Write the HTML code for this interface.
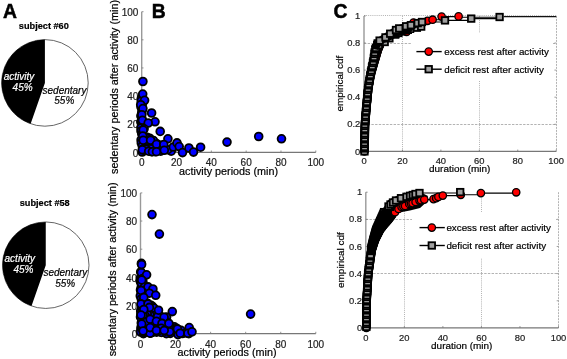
<!DOCTYPE html>
<html><head><meta charset="utf-8"><style>
html,body{margin:0;padding:0;background:#fff;}
svg{display:block;will-change:transform;}
text{font-family:"Liberation Sans", sans-serif;font-variant-ligatures:none;font-kerning:none;}
</style></head><body>
<svg width="567" height="359" viewBox="0 0 567 359">
<rect width="567" height="359" fill="#fff"/>
<circle cx="44.9" cy="82.9" r="43.3" fill="#fff" stroke="#555" stroke-width="0.9"/>
<path d="M44.9,82.9 L44.9,39.60000000000001 A43.3,43.3 0 0,0 30.66,123.79 Z" fill="#000"/>
<circle cx="45.75" cy="265.2" r="43.25" fill="#fff" stroke="#555" stroke-width="0.9"/>
<path d="M45.75,265.2 L45.75,221.95 A43.25,43.25 0 0,0 31.53,306.04 Z" fill="#000"/>
<text x="3.00" y="18.00" font-size="19.3" text-anchor="start" font-weight="bold" font-style="normal" fill="#000" stroke="#000" stroke-width="0.5">A</text>
<text x="18.80" y="28.80" font-size="9.2" text-anchor="start" font-weight="bold" font-style="normal" fill="#000"  stroke="#000" stroke-width="0.2">subject #60</text>
<text x="19.70" y="206.10" font-size="9.2" text-anchor="start" font-weight="bold" font-style="normal" fill="#000"  stroke="#000" stroke-width="0.2">subject #58</text>
<text x="19.00" y="79.80" font-size="10" text-anchor="middle" font-weight="normal" font-style="italic" fill="#fff"  stroke="#fff" stroke-width="0.2">activity</text>
<text x="22.60" y="91.00" font-size="10" text-anchor="middle" font-weight="normal" font-style="italic" fill="#fff"  stroke="#fff" stroke-width="0.2">45%</text>
<text x="64.50" y="94.10" font-size="10" text-anchor="middle" font-weight="normal" font-style="italic" fill="#000"  stroke="#000" stroke-width="0.2">sedentary</text>
<text x="64.30" y="104.20" font-size="10" text-anchor="middle" font-weight="normal" font-style="italic" fill="#000"  stroke="#000" stroke-width="0.2">55%</text>
<text x="19.85" y="262.10" font-size="10" text-anchor="middle" font-weight="normal" font-style="italic" fill="#fff"  stroke="#fff" stroke-width="0.2">activity</text>
<text x="23.45" y="273.30" font-size="10" text-anchor="middle" font-weight="normal" font-style="italic" fill="#fff"  stroke="#fff" stroke-width="0.2">45%</text>
<text x="65.35" y="276.40" font-size="10" text-anchor="middle" font-weight="normal" font-style="italic" fill="#000"  stroke="#000" stroke-width="0.2">sedentary</text>
<text x="65.15" y="286.50" font-size="10" text-anchor="middle" font-weight="normal" font-style="italic" fill="#000"  stroke="#000" stroke-width="0.2">55%</text>
<line x1="141.7" y1="152.3" x2="315.8" y2="152.3" stroke="#777" stroke-width="1.2"/>
<line x1="141.7" y1="152.3" x2="141.7" y2="11.7" stroke="#999" stroke-width="1.4"/>
<line x1="141.70" y1="152.3" x2="141.70" y2="150.5" stroke="#777" stroke-width="0.8"/>
<line x1="141.7" y1="152.30" x2="143.5" y2="152.30" stroke="#777" stroke-width="0.8"/>
<text x="141.70" y="166.30" font-size="10" text-anchor="middle" font-weight="normal" font-style="normal" fill="#222"  stroke="#222" stroke-width="0.2">0</text>
<text x="138.40" y="156.60" font-size="10" text-anchor="end" font-weight="normal" font-style="normal" fill="#222"  stroke="#222" stroke-width="0.2">0</text>
<line x1="176.52" y1="152.3" x2="176.52" y2="150.5" stroke="#777" stroke-width="0.8"/>
<line x1="141.7" y1="124.18" x2="143.5" y2="124.18" stroke="#777" stroke-width="0.8"/>
<text x="176.52" y="166.30" font-size="10" text-anchor="middle" font-weight="normal" font-style="normal" fill="#222"  stroke="#222" stroke-width="0.2">20</text>
<text x="138.40" y="128.48" font-size="10" text-anchor="end" font-weight="normal" font-style="normal" fill="#222"  stroke="#222" stroke-width="0.2">20</text>
<line x1="211.34" y1="152.3" x2="211.34" y2="150.5" stroke="#777" stroke-width="0.8"/>
<line x1="141.7" y1="96.06" x2="143.5" y2="96.06" stroke="#777" stroke-width="0.8"/>
<text x="211.34" y="166.30" font-size="10" text-anchor="middle" font-weight="normal" font-style="normal" fill="#222"  stroke="#222" stroke-width="0.2">40</text>
<text x="138.40" y="100.36" font-size="10" text-anchor="end" font-weight="normal" font-style="normal" fill="#222"  stroke="#222" stroke-width="0.2">40</text>
<line x1="246.16" y1="152.3" x2="246.16" y2="150.5" stroke="#777" stroke-width="0.8"/>
<line x1="141.7" y1="67.94" x2="143.5" y2="67.94" stroke="#777" stroke-width="0.8"/>
<text x="246.16" y="166.30" font-size="10" text-anchor="middle" font-weight="normal" font-style="normal" fill="#222"  stroke="#222" stroke-width="0.2">60</text>
<text x="138.40" y="72.24" font-size="10" text-anchor="end" font-weight="normal" font-style="normal" fill="#222"  stroke="#222" stroke-width="0.2">60</text>
<line x1="280.98" y1="152.3" x2="280.98" y2="150.5" stroke="#777" stroke-width="0.8"/>
<line x1="141.7" y1="39.82" x2="143.5" y2="39.82" stroke="#777" stroke-width="0.8"/>
<text x="280.98" y="166.30" font-size="10" text-anchor="middle" font-weight="normal" font-style="normal" fill="#222"  stroke="#222" stroke-width="0.2">80</text>
<text x="138.40" y="44.12" font-size="10" text-anchor="end" font-weight="normal" font-style="normal" fill="#222"  stroke="#222" stroke-width="0.2">80</text>
<line x1="315.80" y1="152.3" x2="315.80" y2="150.5" stroke="#777" stroke-width="0.8"/>
<line x1="141.7" y1="11.70" x2="143.5" y2="11.70" stroke="#777" stroke-width="0.8"/>
<text x="315.80" y="166.30" font-size="10" text-anchor="middle" font-weight="normal" font-style="normal" fill="#222"  stroke="#222" stroke-width="0.2">100</text>
<text x="138.40" y="16.00" font-size="10" text-anchor="end" font-weight="normal" font-style="normal" fill="#222"  stroke="#222" stroke-width="0.2">100</text>
<text x="228.60" y="174.90" font-size="10.8" text-anchor="middle" font-weight="normal" font-style="normal" fill="#000"  stroke="#000" stroke-width="0.2">activity periods (min)</text>
<text x="0" y="0" font-size="10.8" text-anchor="middle" fill="#000" stroke="#000" stroke-width="0.2" transform="translate(117.9,87.0) rotate(-90)">sedentary periods after activity (min)</text>
<line x1="140.5" y1="333.6" x2="315.8" y2="333.6" stroke="#777" stroke-width="1.2"/>
<line x1="140.5" y1="333.6" x2="140.5" y2="192.9" stroke="#999" stroke-width="1.4"/>
<line x1="140.50" y1="333.6" x2="140.50" y2="331.8" stroke="#777" stroke-width="0.8"/>
<line x1="140.5" y1="333.60" x2="142.3" y2="333.60" stroke="#777" stroke-width="0.8"/>
<text x="140.50" y="347.60" font-size="10" text-anchor="middle" font-weight="normal" font-style="normal" fill="#222"  stroke="#222" stroke-width="0.2">0</text>
<text x="137.20" y="337.90" font-size="10" text-anchor="end" font-weight="normal" font-style="normal" fill="#222"  stroke="#222" stroke-width="0.2">0</text>
<line x1="175.56" y1="333.6" x2="175.56" y2="331.8" stroke="#777" stroke-width="0.8"/>
<line x1="140.5" y1="305.46" x2="142.3" y2="305.46" stroke="#777" stroke-width="0.8"/>
<text x="175.56" y="347.60" font-size="10" text-anchor="middle" font-weight="normal" font-style="normal" fill="#222"  stroke="#222" stroke-width="0.2">20</text>
<text x="137.20" y="309.76" font-size="10" text-anchor="end" font-weight="normal" font-style="normal" fill="#222"  stroke="#222" stroke-width="0.2">20</text>
<line x1="210.62" y1="333.6" x2="210.62" y2="331.8" stroke="#777" stroke-width="0.8"/>
<line x1="140.5" y1="277.32" x2="142.3" y2="277.32" stroke="#777" stroke-width="0.8"/>
<text x="210.62" y="347.60" font-size="10" text-anchor="middle" font-weight="normal" font-style="normal" fill="#222"  stroke="#222" stroke-width="0.2">40</text>
<text x="137.20" y="281.62" font-size="10" text-anchor="end" font-weight="normal" font-style="normal" fill="#222"  stroke="#222" stroke-width="0.2">40</text>
<line x1="245.68" y1="333.6" x2="245.68" y2="331.8" stroke="#777" stroke-width="0.8"/>
<line x1="140.5" y1="249.18" x2="142.3" y2="249.18" stroke="#777" stroke-width="0.8"/>
<text x="245.68" y="347.60" font-size="10" text-anchor="middle" font-weight="normal" font-style="normal" fill="#222"  stroke="#222" stroke-width="0.2">60</text>
<text x="137.20" y="253.48" font-size="10" text-anchor="end" font-weight="normal" font-style="normal" fill="#222"  stroke="#222" stroke-width="0.2">60</text>
<line x1="280.74" y1="333.6" x2="280.74" y2="331.8" stroke="#777" stroke-width="0.8"/>
<line x1="140.5" y1="221.04" x2="142.3" y2="221.04" stroke="#777" stroke-width="0.8"/>
<text x="280.74" y="347.60" font-size="10" text-anchor="middle" font-weight="normal" font-style="normal" fill="#222"  stroke="#222" stroke-width="0.2">80</text>
<text x="137.20" y="225.34" font-size="10" text-anchor="end" font-weight="normal" font-style="normal" fill="#222"  stroke="#222" stroke-width="0.2">80</text>
<line x1="315.80" y1="333.6" x2="315.80" y2="331.8" stroke="#777" stroke-width="0.8"/>
<line x1="140.5" y1="192.90" x2="142.3" y2="192.90" stroke="#777" stroke-width="0.8"/>
<text x="315.80" y="347.60" font-size="10" text-anchor="middle" font-weight="normal" font-style="normal" fill="#222"  stroke="#222" stroke-width="0.2">100</text>
<text x="137.20" y="197.20" font-size="10" text-anchor="end" font-weight="normal" font-style="normal" fill="#222"  stroke="#222" stroke-width="0.2">100</text>
<text x="227.00" y="356.00" font-size="10.8" text-anchor="middle" font-weight="normal" font-style="normal" fill="#000"  stroke="#000" stroke-width="0.2">activity periods (min)</text>
<text x="0" y="0" font-size="10.8" text-anchor="middle" fill="#000" stroke="#000" stroke-width="0.2" transform="translate(116.0,269.3) rotate(-90)">sedentary periods after activity (min)</text>
<text x="151.70" y="17.80" font-size="19.3" text-anchor="start" font-weight="bold" font-style="normal" fill="#000" stroke="#000" stroke-width="0.5">B</text>
<circle cx="141.6" cy="98.0" r="3.9" fill="#0000ff" stroke="#000" stroke-width="1.8"/>
<circle cx="141.2" cy="101.0" r="3.9" fill="#0000ff" stroke="#000" stroke-width="1.8"/>
<circle cx="142.4" cy="104.0" r="3.9" fill="#0000ff" stroke="#000" stroke-width="1.8"/>
<circle cx="141.0" cy="107.0" r="3.9" fill="#0000ff" stroke="#000" stroke-width="1.8"/>
<circle cx="142.1" cy="110.0" r="3.9" fill="#0000ff" stroke="#000" stroke-width="1.8"/>
<circle cx="141.7" cy="113.0" r="3.9" fill="#0000ff" stroke="#000" stroke-width="1.8"/>
<circle cx="140.9" cy="116.0" r="3.9" fill="#0000ff" stroke="#000" stroke-width="1.8"/>
<circle cx="142.0" cy="119.0" r="3.9" fill="#0000ff" stroke="#000" stroke-width="1.8"/>
<circle cx="140.9" cy="122.0" r="3.9" fill="#0000ff" stroke="#000" stroke-width="1.8"/>
<circle cx="141.8" cy="125.0" r="3.9" fill="#0000ff" stroke="#000" stroke-width="1.8"/>
<circle cx="141.0" cy="128.0" r="3.9" fill="#0000ff" stroke="#000" stroke-width="1.8"/>
<circle cx="141.0" cy="131.0" r="3.9" fill="#0000ff" stroke="#000" stroke-width="1.8"/>
<circle cx="141.8" cy="134.0" r="3.9" fill="#0000ff" stroke="#000" stroke-width="1.8"/>
<circle cx="142.8" cy="137.0" r="3.9" fill="#0000ff" stroke="#000" stroke-width="1.8"/>
<circle cx="141.1" cy="140.0" r="3.9" fill="#0000ff" stroke="#000" stroke-width="1.8"/>
<circle cx="141.3" cy="143.0" r="3.9" fill="#0000ff" stroke="#000" stroke-width="1.8"/>
<circle cx="142.3" cy="146.0" r="3.9" fill="#0000ff" stroke="#000" stroke-width="1.8"/>
<circle cx="143.1" cy="149.0" r="3.9" fill="#0000ff" stroke="#000" stroke-width="1.8"/>
<circle cx="142.2" cy="152.0" r="3.9" fill="#0000ff" stroke="#000" stroke-width="1.8"/>
<circle cx="155.1" cy="151.6" r="3.9" fill="#0000ff" stroke="#000" stroke-width="1.8"/>
<circle cx="143.5" cy="149.5" r="3.9" fill="#0000ff" stroke="#000" stroke-width="1.8"/>
<circle cx="145.9" cy="139.6" r="3.9" fill="#0000ff" stroke="#000" stroke-width="1.8"/>
<circle cx="161.2" cy="145.5" r="3.9" fill="#0000ff" stroke="#000" stroke-width="1.8"/>
<circle cx="154.3" cy="143.9" r="3.9" fill="#0000ff" stroke="#000" stroke-width="1.8"/>
<circle cx="148.8" cy="146.2" r="3.9" fill="#0000ff" stroke="#000" stroke-width="1.8"/>
<circle cx="151.9" cy="148.3" r="3.9" fill="#0000ff" stroke="#000" stroke-width="1.8"/>
<circle cx="151.5" cy="151.6" r="3.9" fill="#0000ff" stroke="#000" stroke-width="1.8"/>
<circle cx="145.9" cy="141.5" r="3.9" fill="#0000ff" stroke="#000" stroke-width="1.8"/>
<circle cx="164.1" cy="147.8" r="3.9" fill="#0000ff" stroke="#000" stroke-width="1.8"/>
<circle cx="160.9" cy="149.8" r="3.9" fill="#0000ff" stroke="#000" stroke-width="1.8"/>
<circle cx="152.4" cy="146.5" r="3.9" fill="#0000ff" stroke="#000" stroke-width="1.8"/>
<circle cx="157.1" cy="149.1" r="3.9" fill="#0000ff" stroke="#000" stroke-width="1.8"/>
<circle cx="151.4" cy="140.9" r="3.9" fill="#0000ff" stroke="#000" stroke-width="1.8"/>
<circle cx="150.2" cy="141.0" r="3.9" fill="#0000ff" stroke="#000" stroke-width="1.8"/>
<circle cx="156.8" cy="143.9" r="3.9" fill="#0000ff" stroke="#000" stroke-width="1.8"/>
<circle cx="171.2" cy="151.2" r="3.9" fill="#0000ff" stroke="#000" stroke-width="1.8"/>
<circle cx="147.0" cy="137.2" r="3.9" fill="#0000ff" stroke="#000" stroke-width="1.8"/>
<circle cx="149.7" cy="138.2" r="3.9" fill="#0000ff" stroke="#000" stroke-width="1.8"/>
<circle cx="158.0" cy="144.6" r="3.9" fill="#0000ff" stroke="#000" stroke-width="1.8"/>
<circle cx="160.7" cy="151.2" r="3.9" fill="#0000ff" stroke="#000" stroke-width="1.8"/>
<circle cx="162.4" cy="146.2" r="3.9" fill="#0000ff" stroke="#000" stroke-width="1.8"/>
<circle cx="143.8" cy="150.2" r="3.9" fill="#0000ff" stroke="#000" stroke-width="1.8"/>
<circle cx="167.7" cy="149.7" r="3.9" fill="#0000ff" stroke="#000" stroke-width="1.8"/>
<circle cx="144.2" cy="137.8" r="3.9" fill="#0000ff" stroke="#000" stroke-width="1.8"/>
<circle cx="147.4" cy="140.1" r="3.9" fill="#0000ff" stroke="#000" stroke-width="1.8"/>
<circle cx="146.9" cy="138.5" r="3.9" fill="#0000ff" stroke="#000" stroke-width="1.8"/>
<circle cx="153.5" cy="140.6" r="3.9" fill="#0000ff" stroke="#000" stroke-width="1.8"/>
<circle cx="146.1" cy="149.3" r="3.9" fill="#0000ff" stroke="#000" stroke-width="1.8"/>
<circle cx="145.4" cy="140.2" r="3.9" fill="#0000ff" stroke="#000" stroke-width="1.8"/>
<circle cx="142.9" cy="81.5" r="3.9" fill="#0000ff" stroke="#000" stroke-width="1.8"/>
<circle cx="142.7" cy="94.1" r="3.9" fill="#0000ff" stroke="#000" stroke-width="1.8"/>
<circle cx="144.6" cy="100.3" r="3.9" fill="#0000ff" stroke="#000" stroke-width="1.8"/>
<circle cx="140.7" cy="104.7" r="3.9" fill="#0000ff" stroke="#000" stroke-width="1.8"/>
<circle cx="142.9" cy="108.6" r="3.9" fill="#0000ff" stroke="#000" stroke-width="1.8"/>
<circle cx="151.6" cy="113.0" r="3.9" fill="#0000ff" stroke="#000" stroke-width="1.8"/>
<circle cx="141.8" cy="114.7" r="3.9" fill="#0000ff" stroke="#000" stroke-width="1.8"/>
<circle cx="142.4" cy="120.3" r="3.9" fill="#0000ff" stroke="#000" stroke-width="1.8"/>
<circle cx="155.0" cy="121.8" r="3.9" fill="#0000ff" stroke="#000" stroke-width="1.8"/>
<circle cx="148.2" cy="123.0" r="3.9" fill="#0000ff" stroke="#000" stroke-width="1.8"/>
<circle cx="144.1" cy="128.8" r="3.9" fill="#0000ff" stroke="#000" stroke-width="1.8"/>
<circle cx="143.2" cy="130.1" r="3.9" fill="#0000ff" stroke="#000" stroke-width="1.8"/>
<circle cx="160.2" cy="131.4" r="3.9" fill="#0000ff" stroke="#000" stroke-width="1.8"/>
<circle cx="142.7" cy="136.0" r="3.9" fill="#0000ff" stroke="#000" stroke-width="1.8"/>
<circle cx="143.2" cy="140.2" r="3.9" fill="#0000ff" stroke="#000" stroke-width="1.8"/>
<circle cx="150.6" cy="140.2" r="3.9" fill="#0000ff" stroke="#000" stroke-width="1.8"/>
<circle cx="167.9" cy="138.8" r="3.9" fill="#0000ff" stroke="#000" stroke-width="1.8"/>
<circle cx="156.5" cy="144.3" r="3.9" fill="#0000ff" stroke="#000" stroke-width="1.8"/>
<circle cx="163.8" cy="144.5" r="3.9" fill="#0000ff" stroke="#000" stroke-width="1.8"/>
<circle cx="142.3" cy="149.8" r="3.9" fill="#0000ff" stroke="#000" stroke-width="1.8"/>
<circle cx="148.7" cy="151.2" r="3.9" fill="#0000ff" stroke="#000" stroke-width="1.8"/>
<circle cx="152.4" cy="151.7" r="3.9" fill="#0000ff" stroke="#000" stroke-width="1.8"/>
<circle cx="156.5" cy="151.7" r="3.9" fill="#0000ff" stroke="#000" stroke-width="1.8"/>
<circle cx="164.3" cy="150.3" r="3.9" fill="#0000ff" stroke="#000" stroke-width="1.8"/>
<circle cx="173.3" cy="147.0" r="3.9" fill="#0000ff" stroke="#000" stroke-width="1.8"/>
<circle cx="177.0" cy="142.9" r="3.9" fill="#0000ff" stroke="#000" stroke-width="1.8"/>
<circle cx="179.2" cy="146.6" r="3.9" fill="#0000ff" stroke="#000" stroke-width="1.8"/>
<circle cx="182.5" cy="152.6" r="3.9" fill="#0000ff" stroke="#000" stroke-width="1.8"/>
<circle cx="188.9" cy="148.0" r="3.9" fill="#0000ff" stroke="#000" stroke-width="1.8"/>
<circle cx="193.5" cy="152.1" r="3.9" fill="#0000ff" stroke="#000" stroke-width="1.8"/>
<circle cx="200.6" cy="147.2" r="3.9" fill="#0000ff" stroke="#000" stroke-width="1.8"/>
<circle cx="227.0" cy="142.1" r="3.9" fill="#0000ff" stroke="#000" stroke-width="1.8"/>
<circle cx="258.7" cy="136.5" r="3.9" fill="#0000ff" stroke="#000" stroke-width="1.8"/>
<circle cx="281.5" cy="138.8" r="3.9" fill="#0000ff" stroke="#000" stroke-width="1.8"/>
<circle cx="140.7" cy="272.0" r="3.9" fill="#0000ff" stroke="#000" stroke-width="1.8"/>
<circle cx="141.9" cy="275.0" r="3.9" fill="#0000ff" stroke="#000" stroke-width="1.8"/>
<circle cx="140.5" cy="278.0" r="3.9" fill="#0000ff" stroke="#000" stroke-width="1.8"/>
<circle cx="140.2" cy="281.0" r="3.9" fill="#0000ff" stroke="#000" stroke-width="1.8"/>
<circle cx="142.1" cy="284.0" r="3.9" fill="#0000ff" stroke="#000" stroke-width="1.8"/>
<circle cx="141.3" cy="287.0" r="3.9" fill="#0000ff" stroke="#000" stroke-width="1.8"/>
<circle cx="140.5" cy="290.0" r="3.9" fill="#0000ff" stroke="#000" stroke-width="1.8"/>
<circle cx="141.3" cy="293.0" r="3.9" fill="#0000ff" stroke="#000" stroke-width="1.8"/>
<circle cx="140.3" cy="296.0" r="3.9" fill="#0000ff" stroke="#000" stroke-width="1.8"/>
<circle cx="141.3" cy="299.0" r="3.9" fill="#0000ff" stroke="#000" stroke-width="1.8"/>
<circle cx="142.2" cy="302.0" r="3.9" fill="#0000ff" stroke="#000" stroke-width="1.8"/>
<circle cx="141.9" cy="305.0" r="3.9" fill="#0000ff" stroke="#000" stroke-width="1.8"/>
<circle cx="141.6" cy="308.0" r="3.9" fill="#0000ff" stroke="#000" stroke-width="1.8"/>
<circle cx="140.7" cy="311.0" r="3.9" fill="#0000ff" stroke="#000" stroke-width="1.8"/>
<circle cx="140.9" cy="314.0" r="3.9" fill="#0000ff" stroke="#000" stroke-width="1.8"/>
<circle cx="140.5" cy="317.0" r="3.9" fill="#0000ff" stroke="#000" stroke-width="1.8"/>
<circle cx="141.7" cy="320.0" r="3.9" fill="#0000ff" stroke="#000" stroke-width="1.8"/>
<circle cx="141.3" cy="323.0" r="3.9" fill="#0000ff" stroke="#000" stroke-width="1.8"/>
<circle cx="141.8" cy="326.0" r="3.9" fill="#0000ff" stroke="#000" stroke-width="1.8"/>
<circle cx="140.9" cy="329.0" r="3.9" fill="#0000ff" stroke="#000" stroke-width="1.8"/>
<circle cx="140.6" cy="332.0" r="3.9" fill="#0000ff" stroke="#000" stroke-width="1.8"/>
<circle cx="182.4" cy="333.5" r="3.9" fill="#0000ff" stroke="#000" stroke-width="1.8"/>
<circle cx="152.6" cy="316.6" r="3.9" fill="#0000ff" stroke="#000" stroke-width="1.8"/>
<circle cx="142.4" cy="308.1" r="3.9" fill="#0000ff" stroke="#000" stroke-width="1.8"/>
<circle cx="154.2" cy="322.9" r="3.9" fill="#0000ff" stroke="#000" stroke-width="1.8"/>
<circle cx="188.8" cy="333.6" r="3.9" fill="#0000ff" stroke="#000" stroke-width="1.8"/>
<circle cx="152.2" cy="306.2" r="3.9" fill="#0000ff" stroke="#000" stroke-width="1.8"/>
<circle cx="151.0" cy="305.4" r="3.9" fill="#0000ff" stroke="#000" stroke-width="1.8"/>
<circle cx="172.8" cy="330.4" r="3.9" fill="#0000ff" stroke="#000" stroke-width="1.8"/>
<circle cx="174.3" cy="326.8" r="3.9" fill="#0000ff" stroke="#000" stroke-width="1.8"/>
<circle cx="145.3" cy="321.8" r="3.9" fill="#0000ff" stroke="#000" stroke-width="1.8"/>
<circle cx="150.1" cy="326.4" r="3.9" fill="#0000ff" stroke="#000" stroke-width="1.8"/>
<circle cx="158.0" cy="326.8" r="3.9" fill="#0000ff" stroke="#000" stroke-width="1.8"/>
<circle cx="161.5" cy="332.1" r="3.9" fill="#0000ff" stroke="#000" stroke-width="1.8"/>
<circle cx="147.5" cy="303.4" r="3.9" fill="#0000ff" stroke="#000" stroke-width="1.8"/>
<circle cx="148.5" cy="327.8" r="3.9" fill="#0000ff" stroke="#000" stroke-width="1.8"/>
<circle cx="158.9" cy="317.8" r="3.9" fill="#0000ff" stroke="#000" stroke-width="1.8"/>
<circle cx="167.9" cy="331.6" r="3.9" fill="#0000ff" stroke="#000" stroke-width="1.8"/>
<circle cx="163.1" cy="329.4" r="3.9" fill="#0000ff" stroke="#000" stroke-width="1.8"/>
<circle cx="153.8" cy="308.5" r="3.9" fill="#0000ff" stroke="#000" stroke-width="1.8"/>
<circle cx="153.3" cy="319.1" r="3.9" fill="#0000ff" stroke="#000" stroke-width="1.8"/>
<circle cx="154.2" cy="313.1" r="3.9" fill="#0000ff" stroke="#000" stroke-width="1.8"/>
<circle cx="147.7" cy="330.8" r="3.9" fill="#0000ff" stroke="#000" stroke-width="1.8"/>
<circle cx="159.0" cy="314.5" r="3.9" fill="#0000ff" stroke="#000" stroke-width="1.8"/>
<circle cx="170.8" cy="330.6" r="3.9" fill="#0000ff" stroke="#000" stroke-width="1.8"/>
<circle cx="162.5" cy="331.0" r="3.9" fill="#0000ff" stroke="#000" stroke-width="1.8"/>
<circle cx="166.6" cy="317.1" r="3.9" fill="#0000ff" stroke="#000" stroke-width="1.8"/>
<circle cx="141.2" cy="326.8" r="3.9" fill="#0000ff" stroke="#000" stroke-width="1.8"/>
<circle cx="149.8" cy="315.0" r="3.9" fill="#0000ff" stroke="#000" stroke-width="1.8"/>
<circle cx="157.6" cy="316.7" r="3.9" fill="#0000ff" stroke="#000" stroke-width="1.8"/>
<circle cx="169.3" cy="326.2" r="3.9" fill="#0000ff" stroke="#000" stroke-width="1.8"/>
<circle cx="146.4" cy="318.2" r="3.9" fill="#0000ff" stroke="#000" stroke-width="1.8"/>
<circle cx="153.7" cy="308.0" r="3.9" fill="#0000ff" stroke="#000" stroke-width="1.8"/>
<circle cx="169.6" cy="325.4" r="3.9" fill="#0000ff" stroke="#000" stroke-width="1.8"/>
<circle cx="167.1" cy="322.9" r="3.9" fill="#0000ff" stroke="#000" stroke-width="1.8"/>
<circle cx="164.1" cy="317.2" r="3.9" fill="#0000ff" stroke="#000" stroke-width="1.8"/>
<circle cx="165.4" cy="331.9" r="3.9" fill="#0000ff" stroke="#000" stroke-width="1.8"/>
<circle cx="176.7" cy="329.6" r="3.9" fill="#0000ff" stroke="#000" stroke-width="1.8"/>
<circle cx="169.5" cy="332.0" r="3.9" fill="#0000ff" stroke="#000" stroke-width="1.8"/>
<circle cx="147.2" cy="313.9" r="3.9" fill="#0000ff" stroke="#000" stroke-width="1.8"/>
<circle cx="144.7" cy="306.7" r="3.9" fill="#0000ff" stroke="#000" stroke-width="1.8"/>
<circle cx="144.7" cy="322.1" r="3.9" fill="#0000ff" stroke="#000" stroke-width="1.8"/>
<circle cx="181.0" cy="330.3" r="3.9" fill="#0000ff" stroke="#000" stroke-width="1.8"/>
<circle cx="148.9" cy="323.8" r="3.9" fill="#0000ff" stroke="#000" stroke-width="1.8"/>
<circle cx="186.0" cy="332.8" r="3.9" fill="#0000ff" stroke="#000" stroke-width="1.8"/>
<circle cx="152.2" cy="332.3" r="3.9" fill="#0000ff" stroke="#000" stroke-width="1.8"/>
<circle cx="155.7" cy="322.7" r="3.9" fill="#0000ff" stroke="#000" stroke-width="1.8"/>
<circle cx="147.0" cy="321.5" r="3.9" fill="#0000ff" stroke="#000" stroke-width="1.8"/>
<circle cx="148.2" cy="319.0" r="3.9" fill="#0000ff" stroke="#000" stroke-width="1.8"/>
<circle cx="141.7" cy="319.3" r="3.9" fill="#0000ff" stroke="#000" stroke-width="1.8"/>
<circle cx="143.4" cy="333.7" r="3.9" fill="#0000ff" stroke="#000" stroke-width="1.8"/>
<circle cx="170.2" cy="333.4" r="3.9" fill="#0000ff" stroke="#000" stroke-width="1.8"/>
<circle cx="144.9" cy="317.8" r="3.9" fill="#0000ff" stroke="#000" stroke-width="1.8"/>
<circle cx="142.5" cy="329.1" r="3.9" fill="#0000ff" stroke="#000" stroke-width="1.8"/>
<circle cx="156.6" cy="332.1" r="3.9" fill="#0000ff" stroke="#000" stroke-width="1.8"/>
<circle cx="146.5" cy="332.2" r="3.9" fill="#0000ff" stroke="#000" stroke-width="1.8"/>
<circle cx="162.1" cy="327.4" r="3.9" fill="#0000ff" stroke="#000" stroke-width="1.8"/>
<circle cx="143.7" cy="332.6" r="3.9" fill="#0000ff" stroke="#000" stroke-width="1.8"/>
<circle cx="164.5" cy="329.6" r="3.9" fill="#0000ff" stroke="#000" stroke-width="1.8"/>
<circle cx="144.1" cy="330.8" r="3.9" fill="#0000ff" stroke="#000" stroke-width="1.8"/>
<circle cx="143.5" cy="331.0" r="3.9" fill="#0000ff" stroke="#000" stroke-width="1.8"/>
<circle cx="161.5" cy="332.4" r="3.9" fill="#0000ff" stroke="#000" stroke-width="1.8"/>
<circle cx="145.0" cy="315.6" r="3.9" fill="#0000ff" stroke="#000" stroke-width="1.8"/>
<circle cx="142.9" cy="316.4" r="3.9" fill="#0000ff" stroke="#000" stroke-width="1.8"/>
<circle cx="148.0" cy="322.4" r="3.9" fill="#0000ff" stroke="#000" stroke-width="1.8"/>
<circle cx="159.3" cy="330.4" r="3.9" fill="#0000ff" stroke="#000" stroke-width="1.8"/>
<circle cx="155.5" cy="323.1" r="3.9" fill="#0000ff" stroke="#000" stroke-width="1.8"/>
<circle cx="166.4" cy="333.6" r="3.9" fill="#0000ff" stroke="#000" stroke-width="1.8"/>
<circle cx="153.7" cy="330.3" r="3.9" fill="#0000ff" stroke="#000" stroke-width="1.8"/>
<circle cx="143.0" cy="314.9" r="3.9" fill="#0000ff" stroke="#000" stroke-width="1.8"/>
<circle cx="143.6" cy="328.3" r="3.9" fill="#0000ff" stroke="#000" stroke-width="1.8"/>
<circle cx="144.1" cy="330.5" r="3.9" fill="#0000ff" stroke="#000" stroke-width="1.8"/>
<circle cx="151.8" cy="322.1" r="3.9" fill="#0000ff" stroke="#000" stroke-width="1.8"/>
<circle cx="146.8" cy="321.8" r="3.9" fill="#0000ff" stroke="#000" stroke-width="1.8"/>
<circle cx="150.7" cy="333.2" r="3.9" fill="#0000ff" stroke="#000" stroke-width="1.8"/>
<circle cx="150.0" cy="333.2" r="3.9" fill="#0000ff" stroke="#000" stroke-width="1.8"/>
<circle cx="142.9" cy="282.0" r="3.9" fill="#0000ff" stroke="#000" stroke-width="1.8"/>
<circle cx="141.0" cy="282.7" r="3.9" fill="#0000ff" stroke="#000" stroke-width="1.8"/>
<circle cx="143.8" cy="286.1" r="3.9" fill="#0000ff" stroke="#000" stroke-width="1.8"/>
<circle cx="142.2" cy="286.1" r="3.9" fill="#0000ff" stroke="#000" stroke-width="1.8"/>
<circle cx="141.0" cy="279.4" r="3.9" fill="#0000ff" stroke="#000" stroke-width="1.8"/>
<circle cx="141.5" cy="283.2" r="3.9" fill="#0000ff" stroke="#000" stroke-width="1.8"/>
<circle cx="141.3" cy="272.6" r="3.9" fill="#0000ff" stroke="#000" stroke-width="1.8"/>
<circle cx="142.8" cy="278.5" r="3.9" fill="#0000ff" stroke="#000" stroke-width="1.8"/>
<circle cx="144.5" cy="286.8" r="3.9" fill="#0000ff" stroke="#000" stroke-width="1.8"/>
<circle cx="145.5" cy="290.4" r="3.9" fill="#0000ff" stroke="#000" stroke-width="1.8"/>
<circle cx="152.0" cy="214.6" r="3.9" fill="#0000ff" stroke="#000" stroke-width="1.8"/>
<circle cx="159.4" cy="234.1" r="3.9" fill="#0000ff" stroke="#000" stroke-width="1.8"/>
<circle cx="141.4" cy="263.4" r="3.9" fill="#0000ff" stroke="#000" stroke-width="1.8"/>
<circle cx="141.6" cy="264.6" r="3.9" fill="#0000ff" stroke="#000" stroke-width="1.8"/>
<circle cx="146.6" cy="274.8" r="3.9" fill="#0000ff" stroke="#000" stroke-width="1.8"/>
<circle cx="141.7" cy="279.9" r="3.9" fill="#0000ff" stroke="#000" stroke-width="1.8"/>
<circle cx="148.0" cy="286.9" r="3.9" fill="#0000ff" stroke="#000" stroke-width="1.8"/>
<circle cx="152.9" cy="289.0" r="3.9" fill="#0000ff" stroke="#000" stroke-width="1.8"/>
<circle cx="141.1" cy="290.4" r="3.9" fill="#0000ff" stroke="#000" stroke-width="1.8"/>
<circle cx="149.4" cy="293.2" r="3.9" fill="#0000ff" stroke="#000" stroke-width="1.8"/>
<circle cx="155.7" cy="295.3" r="3.9" fill="#0000ff" stroke="#000" stroke-width="1.8"/>
<circle cx="143.8" cy="297.4" r="3.9" fill="#0000ff" stroke="#000" stroke-width="1.8"/>
<circle cx="141.0" cy="303.9" r="3.9" fill="#0000ff" stroke="#000" stroke-width="1.8"/>
<circle cx="148.0" cy="303.9" r="3.9" fill="#0000ff" stroke="#000" stroke-width="1.8"/>
<circle cx="149.4" cy="307.4" r="3.9" fill="#0000ff" stroke="#000" stroke-width="1.8"/>
<circle cx="158.5" cy="310.2" r="3.9" fill="#0000ff" stroke="#000" stroke-width="1.8"/>
<circle cx="172.3" cy="311.6" r="3.9" fill="#0000ff" stroke="#000" stroke-width="1.8"/>
<circle cx="143.8" cy="309.5" r="3.9" fill="#0000ff" stroke="#000" stroke-width="1.8"/>
<circle cx="141.0" cy="315.1" r="3.9" fill="#0000ff" stroke="#000" stroke-width="1.8"/>
<circle cx="150.1" cy="319.2" r="3.9" fill="#0000ff" stroke="#000" stroke-width="1.8"/>
<circle cx="156.4" cy="321.3" r="3.9" fill="#0000ff" stroke="#000" stroke-width="1.8"/>
<circle cx="162.0" cy="323.4" r="3.9" fill="#0000ff" stroke="#000" stroke-width="1.8"/>
<circle cx="168.9" cy="323.4" r="3.9" fill="#0000ff" stroke="#000" stroke-width="1.8"/>
<circle cx="141.7" cy="324.1" r="3.9" fill="#0000ff" stroke="#000" stroke-width="1.8"/>
<circle cx="150.1" cy="327.6" r="3.9" fill="#0000ff" stroke="#000" stroke-width="1.8"/>
<circle cx="161.2" cy="328.3" r="3.9" fill="#0000ff" stroke="#000" stroke-width="1.8"/>
<circle cx="176.6" cy="328.3" r="3.9" fill="#0000ff" stroke="#000" stroke-width="1.8"/>
<circle cx="143.1" cy="331.1" r="3.9" fill="#0000ff" stroke="#000" stroke-width="1.8"/>
<circle cx="156.4" cy="330.4" r="3.9" fill="#0000ff" stroke="#000" stroke-width="1.8"/>
<circle cx="165.4" cy="331.1" r="3.9" fill="#0000ff" stroke="#000" stroke-width="1.8"/>
<circle cx="169.6" cy="331.8" r="3.9" fill="#0000ff" stroke="#000" stroke-width="1.8"/>
<circle cx="178.0" cy="334.6" r="3.9" fill="#0000ff" stroke="#000" stroke-width="1.8"/>
<circle cx="177.4" cy="329.0" r="3.9" fill="#0000ff" stroke="#000" stroke-width="1.8"/>
<circle cx="180.2" cy="333.2" r="3.9" fill="#0000ff" stroke="#000" stroke-width="1.8"/>
<circle cx="189.2" cy="327.6" r="3.9" fill="#0000ff" stroke="#000" stroke-width="1.8"/>
<circle cx="187.9" cy="333.2" r="3.9" fill="#0000ff" stroke="#000" stroke-width="1.8"/>
<circle cx="192.0" cy="331.8" r="3.9" fill="#0000ff" stroke="#000" stroke-width="1.8"/>
<circle cx="164.2" cy="330.4" r="3.9" fill="#0000ff" stroke="#000" stroke-width="1.8"/>
<circle cx="250.6" cy="314.1" r="3.9" fill="#0000ff" stroke="#000" stroke-width="1.8"/>
<line x1="402.50" y1="15.9" x2="402.50" y2="151.4" stroke="#aaa" stroke-width="0.9" stroke-dasharray="1,1.1"/>
<line x1="479.50" y1="15.9" x2="479.50" y2="151.4" stroke="#aaa" stroke-width="0.9" stroke-dasharray="1,1.1"/>
<line x1="556.50" y1="15.9" x2="556.50" y2="151.4" stroke="#aaa" stroke-width="0.9" stroke-dasharray="2,1"/>
<line x1="364.0" y1="124.50" x2="556.2" y2="124.50" stroke="#aaa" stroke-width="0.9" stroke-dasharray="2.4,1.3"/>
<line x1="364.0" y1="43.50" x2="556.2" y2="43.50" stroke="#aaa" stroke-width="0.9" stroke-dasharray="2.4,1.3"/>
<line x1="364.0" y1="15.50" x2="556.2" y2="15.50" stroke="#aaa" stroke-width="0.9" stroke-dasharray="1,1.1"/>
<line x1="364.0" y1="151.4" x2="556.2" y2="151.4" stroke="#777" stroke-width="1.2"/>
<line x1="364.0" y1="151.4" x2="364.0" y2="15.9" stroke="#999" stroke-width="1.4"/>
<line x1="364.00" y1="151.4" x2="364.00" y2="149.6" stroke="#777" stroke-width="0.8"/>
<text x="364.00" y="164.20" font-size="9.4" text-anchor="middle" font-weight="normal" font-style="normal" fill="#222"  stroke="#222" stroke-width="0.2">0</text>
<line x1="364.0" y1="151.40" x2="365.8" y2="151.40" stroke="#777" stroke-width="0.8"/>
<text x="360.30" y="154.50" font-size="9.4" text-anchor="end" font-weight="normal" font-style="normal" fill="#222"  stroke="#222" stroke-width="0.2">0</text>
<line x1="402.44" y1="151.4" x2="402.44" y2="149.6" stroke="#777" stroke-width="0.8"/>
<text x="402.44" y="164.20" font-size="9.4" text-anchor="middle" font-weight="normal" font-style="normal" fill="#222"  stroke="#222" stroke-width="0.2">20</text>
<line x1="364.0" y1="124.30" x2="365.8" y2="124.30" stroke="#777" stroke-width="0.8"/>
<line x1="556.2" y1="124.30" x2="554.4000000000001" y2="124.30" stroke="#888" stroke-width="0.8"/>
<text x="360.30" y="127.40" font-size="9.4" text-anchor="end" font-weight="normal" font-style="normal" fill="#222"  stroke="#222" stroke-width="0.2">0.2</text>
<line x1="440.88" y1="151.4" x2="440.88" y2="149.6" stroke="#777" stroke-width="0.8"/>
<text x="440.88" y="164.20" font-size="9.4" text-anchor="middle" font-weight="normal" font-style="normal" fill="#222"  stroke="#222" stroke-width="0.2">40</text>
<line x1="364.0" y1="97.20" x2="365.8" y2="97.20" stroke="#777" stroke-width="0.8"/>
<line x1="556.2" y1="97.20" x2="554.4000000000001" y2="97.20" stroke="#888" stroke-width="0.8"/>
<text x="360.30" y="100.30" font-size="9.4" text-anchor="end" font-weight="normal" font-style="normal" fill="#222"  stroke="#222" stroke-width="0.2">0.4</text>
<line x1="479.32" y1="151.4" x2="479.32" y2="149.6" stroke="#777" stroke-width="0.8"/>
<text x="479.32" y="164.20" font-size="9.4" text-anchor="middle" font-weight="normal" font-style="normal" fill="#222"  stroke="#222" stroke-width="0.2">60</text>
<line x1="364.0" y1="70.10" x2="365.8" y2="70.10" stroke="#777" stroke-width="0.8"/>
<line x1="556.2" y1="70.10" x2="554.4000000000001" y2="70.10" stroke="#888" stroke-width="0.8"/>
<text x="360.30" y="73.20" font-size="9.4" text-anchor="end" font-weight="normal" font-style="normal" fill="#222"  stroke="#222" stroke-width="0.2">0.6</text>
<line x1="517.76" y1="151.4" x2="517.76" y2="149.6" stroke="#777" stroke-width="0.8"/>
<text x="517.76" y="164.20" font-size="9.4" text-anchor="middle" font-weight="normal" font-style="normal" fill="#222"  stroke="#222" stroke-width="0.2">80</text>
<line x1="364.0" y1="43.00" x2="365.8" y2="43.00" stroke="#777" stroke-width="0.8"/>
<line x1="556.2" y1="43.00" x2="554.4000000000001" y2="43.00" stroke="#888" stroke-width="0.8"/>
<text x="360.30" y="46.10" font-size="9.4" text-anchor="end" font-weight="normal" font-style="normal" fill="#222"  stroke="#222" stroke-width="0.2">0.8</text>
<line x1="556.20" y1="151.4" x2="556.20" y2="149.6" stroke="#777" stroke-width="0.8"/>
<text x="556.20" y="164.20" font-size="9.4" text-anchor="middle" font-weight="normal" font-style="normal" fill="#222"  stroke="#222" stroke-width="0.2">100</text>
<line x1="364.0" y1="15.90" x2="365.8" y2="15.90" stroke="#777" stroke-width="0.8"/>
<text x="360.30" y="19.00" font-size="9.4" text-anchor="end" font-weight="normal" font-style="normal" fill="#222"  stroke="#222" stroke-width="0.2">1</text>
<text x="459.70" y="171.70" font-size="9.95" text-anchor="middle" font-weight="normal" font-style="normal" fill="#000"  stroke="#000" stroke-width="0.2">duration (min)</text>
<text x="0" y="0" font-size="9.95" text-anchor="middle" fill="#000" stroke="#000" stroke-width="0.2" transform="translate(343.4,83.65) rotate(-90)">empirical cdf</text>
<path d="M364.48,151.40 H364.50 V150.50 H364.52 V149.59 H364.54 V148.69 H364.56 V147.79 H364.58 V146.88 H364.60 V145.98 H364.62 V145.08 H364.63 V144.17 H364.65 V143.27 H364.67 V142.37 H364.69 V141.46 H364.71 V140.56 H364.73 V139.66 H364.75 V138.75 H364.77 V137.85 H364.79 V136.95 H364.81 V136.04 H364.83 V135.14 H364.85 V134.24 H364.86 V133.33 H364.88 V132.43 H364.90 V131.53 H364.92 V130.62 H364.94 V129.72 H364.96 V128.82 H364.98 V127.91 H365.00 V127.01 H365.02 V126.11 H365.04 V125.20 H365.06 V124.30 H365.13 V123.40 H365.21 V122.49 H365.28 V121.59 H365.36 V120.69 H365.44 V119.78 H365.51 V118.88 H365.59 V117.98 H365.66 V117.07 H365.74 V116.17 H365.82 V115.27 H365.89 V114.36 H365.97 V113.46 H366.04 V112.56 H366.12 V111.65 H366.20 V110.75 H366.27 V109.85 H366.35 V108.94 H366.42 V108.04 H366.50 V107.14 H366.58 V106.23 H366.66 V105.33 H366.75 V104.43 H366.83 V103.52 H366.92 V102.62 H367.01 V101.72 H367.10 V100.81 H367.18 V99.91 H367.27 V99.01 H367.36 V98.10 H367.44 V97.20 H367.53 V96.30 H367.62 V95.39 H367.71 V94.49 H367.79 V93.59 H367.88 V92.68 H367.97 V91.78 H368.05 V90.88 H368.14 V89.97 H368.23 V89.07 H368.38 V88.17 H368.52 V87.26 H368.67 V86.36 H368.82 V85.46 H368.97 V84.55 H369.12 V83.65 H369.26 V82.75 H369.41 V81.84 H369.56 V80.94 H369.71 V80.04 H369.85 V79.13 H370.00 V78.23 H370.15 V77.33 H370.30 V76.42 H370.45 V75.52 H370.64 V74.62 H370.91 V73.71 H371.17 V72.81 H371.44 V71.91 H371.70 V71.00 H371.97 V70.10 H372.23 V69.20 H372.50 V68.29 H372.77 V67.39 H373.03 V66.49 H373.30 V65.58 H373.56 V64.68 H373.83 V63.78 H374.09 V62.87 H374.36 V61.97 H374.62 V61.07 H374.89 V60.16 H375.15 V59.26 H375.42 V58.36 H375.68 V57.45 H375.94 V56.55 H376.21 V55.65 H376.47 V54.74 H376.73 V53.84 H377.00 V52.94 H377.26 V52.03 H377.52 V51.13 H377.79 V50.23 H378.14 V49.32 H378.52 V48.42 H378.91 V47.52 H379.29 V46.61 H379.67 V45.71 H380.02 V44.81 H380.27 V43.90 H380.53 V43.00 H385.00 V40.50 H392.00 V37.50 H399.00 V35.00 H406.50 V32.00 H413.50 V22.50 H427.50 V20.80 H432.60 V19.70 H441.60 V16.60 H458.60 V16.40" fill="none" stroke="#000" stroke-width="1.1"/>
<path d="M364.48,151.40 H364.52 V148.40 H364.54 V146.90 H364.59 V143.90 H364.61 V142.40 H364.65 V139.40 H364.67 V137.90 H364.71 V134.90 H364.74 V133.40 H364.78 V130.40 H364.80 V128.90 H364.84 V125.90 H364.86 V124.40 H365.11 V121.40 H365.23 V119.90 H365.49 V116.90 H365.61 V115.40 H365.87 V112.40 H365.99 V110.90 H366.24 V107.90 H366.37 V106.40 H366.65 V103.40 H366.80 V101.90 H367.09 V98.90 H367.23 V97.40 H367.52 V94.40 H367.67 V92.90 H367.96 V89.90 H368.15 V88.40 H368.64 V85.40 H368.88 V83.90 H369.37 V80.90 H369.62 V79.40 H370.11 V76.40 H370.36 V74.90 H371.01 V71.90 H371.34 V70.40 H371.99 V67.40 H372.31 V65.90 H372.97 V62.90 H373.29 V61.40 H373.83 V58.40 H374.05 V56.90 H374.49 V53.90 H374.71 V52.40 H375.32 V49.40 H375.96 V47.90 H377.21 V44.90 H377.71 V43.40 H379.60 V40.60 H385.50 V37.40 H390.20 V33.70 H396.00 V30.00 H399.20 V28.40 H406.10 V26.30 H410.90 V25.20 H417.70 V23.10 H422.00 V22.00 H445.00 V20.40 H471.20 V18.60 H499.60 V17.00" fill="none" stroke="#000" stroke-width="1.1"/>
<line x1="458.6" y1="17.2" x2="499.6" y2="17.2" stroke="#000" stroke-width="1.1"/>
<circle cx="364.48" cy="151.40" r="3.7" fill="#f00" stroke="#000" stroke-width="1.3"/>
<circle cx="364.50" cy="150.50" r="3.7" fill="#f00" stroke="#000" stroke-width="1.3"/>
<circle cx="364.52" cy="149.59" r="3.7" fill="#f00" stroke="#000" stroke-width="1.3"/>
<circle cx="364.54" cy="148.69" r="3.7" fill="#f00" stroke="#000" stroke-width="1.3"/>
<circle cx="364.56" cy="147.79" r="3.7" fill="#f00" stroke="#000" stroke-width="1.3"/>
<circle cx="364.58" cy="146.88" r="3.7" fill="#f00" stroke="#000" stroke-width="1.3"/>
<circle cx="364.60" cy="145.98" r="3.7" fill="#f00" stroke="#000" stroke-width="1.3"/>
<circle cx="364.62" cy="145.08" r="3.7" fill="#f00" stroke="#000" stroke-width="1.3"/>
<circle cx="364.63" cy="144.17" r="3.7" fill="#f00" stroke="#000" stroke-width="1.3"/>
<circle cx="364.65" cy="143.27" r="3.7" fill="#f00" stroke="#000" stroke-width="1.3"/>
<circle cx="364.67" cy="142.37" r="3.7" fill="#f00" stroke="#000" stroke-width="1.3"/>
<circle cx="364.69" cy="141.46" r="3.7" fill="#f00" stroke="#000" stroke-width="1.3"/>
<circle cx="364.71" cy="140.56" r="3.7" fill="#f00" stroke="#000" stroke-width="1.3"/>
<circle cx="364.73" cy="139.66" r="3.7" fill="#f00" stroke="#000" stroke-width="1.3"/>
<circle cx="364.75" cy="138.75" r="3.7" fill="#f00" stroke="#000" stroke-width="1.3"/>
<circle cx="364.77" cy="137.85" r="3.7" fill="#f00" stroke="#000" stroke-width="1.3"/>
<circle cx="364.79" cy="136.95" r="3.7" fill="#f00" stroke="#000" stroke-width="1.3"/>
<circle cx="364.81" cy="136.04" r="3.7" fill="#f00" stroke="#000" stroke-width="1.3"/>
<circle cx="364.83" cy="135.14" r="3.7" fill="#f00" stroke="#000" stroke-width="1.3"/>
<circle cx="364.85" cy="134.24" r="3.7" fill="#f00" stroke="#000" stroke-width="1.3"/>
<circle cx="364.86" cy="133.33" r="3.7" fill="#f00" stroke="#000" stroke-width="1.3"/>
<circle cx="364.88" cy="132.43" r="3.7" fill="#f00" stroke="#000" stroke-width="1.3"/>
<circle cx="364.90" cy="131.53" r="3.7" fill="#f00" stroke="#000" stroke-width="1.3"/>
<circle cx="364.92" cy="130.62" r="3.7" fill="#f00" stroke="#000" stroke-width="1.3"/>
<circle cx="364.94" cy="129.72" r="3.7" fill="#f00" stroke="#000" stroke-width="1.3"/>
<circle cx="364.96" cy="128.82" r="3.7" fill="#f00" stroke="#000" stroke-width="1.3"/>
<circle cx="364.98" cy="127.91" r="3.7" fill="#f00" stroke="#000" stroke-width="1.3"/>
<circle cx="365.00" cy="127.01" r="3.7" fill="#f00" stroke="#000" stroke-width="1.3"/>
<circle cx="365.02" cy="126.11" r="3.7" fill="#f00" stroke="#000" stroke-width="1.3"/>
<circle cx="365.04" cy="125.20" r="3.7" fill="#f00" stroke="#000" stroke-width="1.3"/>
<circle cx="365.06" cy="124.30" r="3.7" fill="#f00" stroke="#000" stroke-width="1.3"/>
<circle cx="365.13" cy="123.40" r="3.7" fill="#f00" stroke="#000" stroke-width="1.3"/>
<circle cx="365.21" cy="122.49" r="3.7" fill="#f00" stroke="#000" stroke-width="1.3"/>
<circle cx="365.28" cy="121.59" r="3.7" fill="#f00" stroke="#000" stroke-width="1.3"/>
<circle cx="365.36" cy="120.69" r="3.7" fill="#f00" stroke="#000" stroke-width="1.3"/>
<circle cx="365.44" cy="119.78" r="3.7" fill="#f00" stroke="#000" stroke-width="1.3"/>
<circle cx="365.51" cy="118.88" r="3.7" fill="#f00" stroke="#000" stroke-width="1.3"/>
<circle cx="365.59" cy="117.98" r="3.7" fill="#f00" stroke="#000" stroke-width="1.3"/>
<circle cx="365.66" cy="117.07" r="3.7" fill="#f00" stroke="#000" stroke-width="1.3"/>
<circle cx="365.74" cy="116.17" r="3.7" fill="#f00" stroke="#000" stroke-width="1.3"/>
<circle cx="365.82" cy="115.27" r="3.7" fill="#f00" stroke="#000" stroke-width="1.3"/>
<circle cx="365.89" cy="114.36" r="3.7" fill="#f00" stroke="#000" stroke-width="1.3"/>
<circle cx="365.97" cy="113.46" r="3.7" fill="#f00" stroke="#000" stroke-width="1.3"/>
<circle cx="366.04" cy="112.56" r="3.7" fill="#f00" stroke="#000" stroke-width="1.3"/>
<circle cx="366.12" cy="111.65" r="3.7" fill="#f00" stroke="#000" stroke-width="1.3"/>
<circle cx="366.20" cy="110.75" r="3.7" fill="#f00" stroke="#000" stroke-width="1.3"/>
<circle cx="366.27" cy="109.85" r="3.7" fill="#f00" stroke="#000" stroke-width="1.3"/>
<circle cx="366.35" cy="108.94" r="3.7" fill="#f00" stroke="#000" stroke-width="1.3"/>
<circle cx="366.42" cy="108.04" r="3.7" fill="#f00" stroke="#000" stroke-width="1.3"/>
<circle cx="366.50" cy="107.14" r="3.7" fill="#f00" stroke="#000" stroke-width="1.3"/>
<circle cx="366.58" cy="106.23" r="3.7" fill="#f00" stroke="#000" stroke-width="1.3"/>
<circle cx="366.66" cy="105.33" r="3.7" fill="#f00" stroke="#000" stroke-width="1.3"/>
<circle cx="366.75" cy="104.43" r="3.7" fill="#f00" stroke="#000" stroke-width="1.3"/>
<circle cx="366.83" cy="103.52" r="3.7" fill="#f00" stroke="#000" stroke-width="1.3"/>
<circle cx="366.92" cy="102.62" r="3.7" fill="#f00" stroke="#000" stroke-width="1.3"/>
<circle cx="367.01" cy="101.72" r="3.7" fill="#f00" stroke="#000" stroke-width="1.3"/>
<circle cx="367.10" cy="100.81" r="3.7" fill="#f00" stroke="#000" stroke-width="1.3"/>
<circle cx="367.18" cy="99.91" r="3.7" fill="#f00" stroke="#000" stroke-width="1.3"/>
<circle cx="367.27" cy="99.01" r="3.7" fill="#f00" stroke="#000" stroke-width="1.3"/>
<circle cx="367.36" cy="98.10" r="3.7" fill="#f00" stroke="#000" stroke-width="1.3"/>
<circle cx="367.44" cy="97.20" r="3.7" fill="#f00" stroke="#000" stroke-width="1.3"/>
<circle cx="367.53" cy="96.30" r="3.7" fill="#f00" stroke="#000" stroke-width="1.3"/>
<circle cx="367.62" cy="95.39" r="3.7" fill="#f00" stroke="#000" stroke-width="1.3"/>
<circle cx="367.71" cy="94.49" r="3.7" fill="#f00" stroke="#000" stroke-width="1.3"/>
<circle cx="367.79" cy="93.59" r="3.7" fill="#f00" stroke="#000" stroke-width="1.3"/>
<circle cx="367.88" cy="92.68" r="3.7" fill="#f00" stroke="#000" stroke-width="1.3"/>
<circle cx="367.97" cy="91.78" r="3.7" fill="#f00" stroke="#000" stroke-width="1.3"/>
<circle cx="368.05" cy="90.88" r="3.7" fill="#f00" stroke="#000" stroke-width="1.3"/>
<circle cx="368.14" cy="89.97" r="3.7" fill="#f00" stroke="#000" stroke-width="1.3"/>
<circle cx="368.23" cy="89.07" r="3.7" fill="#f00" stroke="#000" stroke-width="1.3"/>
<circle cx="368.38" cy="88.17" r="3.7" fill="#f00" stroke="#000" stroke-width="1.3"/>
<circle cx="368.52" cy="87.26" r="3.7" fill="#f00" stroke="#000" stroke-width="1.3"/>
<circle cx="368.67" cy="86.36" r="3.7" fill="#f00" stroke="#000" stroke-width="1.3"/>
<circle cx="368.82" cy="85.46" r="3.7" fill="#f00" stroke="#000" stroke-width="1.3"/>
<circle cx="368.97" cy="84.55" r="3.7" fill="#f00" stroke="#000" stroke-width="1.3"/>
<circle cx="369.12" cy="83.65" r="3.7" fill="#f00" stroke="#000" stroke-width="1.3"/>
<circle cx="369.26" cy="82.75" r="3.7" fill="#f00" stroke="#000" stroke-width="1.3"/>
<circle cx="369.41" cy="81.84" r="3.7" fill="#f00" stroke="#000" stroke-width="1.3"/>
<circle cx="369.56" cy="80.94" r="3.7" fill="#f00" stroke="#000" stroke-width="1.3"/>
<circle cx="369.71" cy="80.04" r="3.7" fill="#f00" stroke="#000" stroke-width="1.3"/>
<circle cx="369.85" cy="79.13" r="3.7" fill="#f00" stroke="#000" stroke-width="1.3"/>
<circle cx="370.00" cy="78.23" r="3.7" fill="#f00" stroke="#000" stroke-width="1.3"/>
<circle cx="370.15" cy="77.33" r="3.7" fill="#f00" stroke="#000" stroke-width="1.3"/>
<circle cx="370.30" cy="76.42" r="3.7" fill="#f00" stroke="#000" stroke-width="1.3"/>
<circle cx="370.45" cy="75.52" r="3.7" fill="#f00" stroke="#000" stroke-width="1.3"/>
<circle cx="370.64" cy="74.62" r="3.7" fill="#f00" stroke="#000" stroke-width="1.3"/>
<circle cx="370.91" cy="73.71" r="3.7" fill="#f00" stroke="#000" stroke-width="1.3"/>
<circle cx="371.17" cy="72.81" r="3.7" fill="#f00" stroke="#000" stroke-width="1.3"/>
<circle cx="371.44" cy="71.91" r="3.7" fill="#f00" stroke="#000" stroke-width="1.3"/>
<circle cx="371.70" cy="71.00" r="3.7" fill="#f00" stroke="#000" stroke-width="1.3"/>
<circle cx="371.97" cy="70.10" r="3.7" fill="#f00" stroke="#000" stroke-width="1.3"/>
<circle cx="372.23" cy="69.20" r="3.7" fill="#f00" stroke="#000" stroke-width="1.3"/>
<circle cx="372.50" cy="68.29" r="3.7" fill="#f00" stroke="#000" stroke-width="1.3"/>
<circle cx="372.77" cy="67.39" r="3.7" fill="#f00" stroke="#000" stroke-width="1.3"/>
<circle cx="373.03" cy="66.49" r="3.7" fill="#f00" stroke="#000" stroke-width="1.3"/>
<circle cx="373.30" cy="65.58" r="3.7" fill="#f00" stroke="#000" stroke-width="1.3"/>
<circle cx="373.56" cy="64.68" r="3.7" fill="#f00" stroke="#000" stroke-width="1.3"/>
<circle cx="373.83" cy="63.78" r="3.7" fill="#f00" stroke="#000" stroke-width="1.3"/>
<circle cx="374.09" cy="62.87" r="3.7" fill="#f00" stroke="#000" stroke-width="1.3"/>
<circle cx="374.36" cy="61.97" r="3.7" fill="#f00" stroke="#000" stroke-width="1.3"/>
<circle cx="374.62" cy="61.07" r="3.7" fill="#f00" stroke="#000" stroke-width="1.3"/>
<circle cx="374.89" cy="60.16" r="3.7" fill="#f00" stroke="#000" stroke-width="1.3"/>
<circle cx="375.15" cy="59.26" r="3.7" fill="#f00" stroke="#000" stroke-width="1.3"/>
<circle cx="375.42" cy="58.36" r="3.7" fill="#f00" stroke="#000" stroke-width="1.3"/>
<circle cx="375.68" cy="57.45" r="3.7" fill="#f00" stroke="#000" stroke-width="1.3"/>
<circle cx="375.94" cy="56.55" r="3.7" fill="#f00" stroke="#000" stroke-width="1.3"/>
<circle cx="376.21" cy="55.65" r="3.7" fill="#f00" stroke="#000" stroke-width="1.3"/>
<circle cx="376.47" cy="54.74" r="3.7" fill="#f00" stroke="#000" stroke-width="1.3"/>
<circle cx="376.73" cy="53.84" r="3.7" fill="#f00" stroke="#000" stroke-width="1.3"/>
<circle cx="377.00" cy="52.94" r="3.7" fill="#f00" stroke="#000" stroke-width="1.3"/>
<circle cx="377.26" cy="52.03" r="3.7" fill="#f00" stroke="#000" stroke-width="1.3"/>
<circle cx="377.52" cy="51.13" r="3.7" fill="#f00" stroke="#000" stroke-width="1.3"/>
<circle cx="377.79" cy="50.23" r="3.7" fill="#f00" stroke="#000" stroke-width="1.3"/>
<circle cx="378.14" cy="49.32" r="3.7" fill="#f00" stroke="#000" stroke-width="1.3"/>
<circle cx="378.52" cy="48.42" r="3.7" fill="#f00" stroke="#000" stroke-width="1.3"/>
<circle cx="378.91" cy="47.52" r="3.7" fill="#f00" stroke="#000" stroke-width="1.3"/>
<circle cx="379.29" cy="46.61" r="3.7" fill="#f00" stroke="#000" stroke-width="1.3"/>
<circle cx="379.67" cy="45.71" r="3.7" fill="#f00" stroke="#000" stroke-width="1.3"/>
<circle cx="380.02" cy="44.81" r="3.7" fill="#f00" stroke="#000" stroke-width="1.3"/>
<circle cx="380.27" cy="43.90" r="3.7" fill="#f00" stroke="#000" stroke-width="1.3"/>
<circle cx="380.53" cy="43.00" r="3.7" fill="#f00" stroke="#000" stroke-width="1.3"/>
<rect x="361.23" y="148.15" width="6.5" height="6.5" fill="#a0a0a0" stroke="#000" stroke-width="1.8"/>
<rect x="361.27" y="145.15" width="6.5" height="6.5" fill="#a0a0a0" stroke="#000" stroke-width="1.8"/>
<rect x="361.29" y="143.65" width="6.5" height="6.5" fill="#a0a0a0" stroke="#000" stroke-width="1.8"/>
<rect x="361.34" y="140.65" width="6.5" height="6.5" fill="#a0a0a0" stroke="#000" stroke-width="1.8"/>
<rect x="361.36" y="139.15" width="6.5" height="6.5" fill="#a0a0a0" stroke="#000" stroke-width="1.8"/>
<rect x="361.40" y="136.15" width="6.5" height="6.5" fill="#a0a0a0" stroke="#000" stroke-width="1.8"/>
<rect x="361.42" y="134.65" width="6.5" height="6.5" fill="#a0a0a0" stroke="#000" stroke-width="1.8"/>
<rect x="361.46" y="131.65" width="6.5" height="6.5" fill="#a0a0a0" stroke="#000" stroke-width="1.8"/>
<rect x="361.49" y="130.15" width="6.5" height="6.5" fill="#a0a0a0" stroke="#000" stroke-width="1.8"/>
<rect x="361.53" y="127.15" width="6.5" height="6.5" fill="#a0a0a0" stroke="#000" stroke-width="1.8"/>
<rect x="361.55" y="125.65" width="6.5" height="6.5" fill="#a0a0a0" stroke="#000" stroke-width="1.8"/>
<rect x="361.59" y="122.65" width="6.5" height="6.5" fill="#a0a0a0" stroke="#000" stroke-width="1.8"/>
<rect x="361.61" y="121.15" width="6.5" height="6.5" fill="#a0a0a0" stroke="#000" stroke-width="1.8"/>
<rect x="361.86" y="118.15" width="6.5" height="6.5" fill="#a0a0a0" stroke="#000" stroke-width="1.8"/>
<rect x="361.98" y="116.65" width="6.5" height="6.5" fill="#a0a0a0" stroke="#000" stroke-width="1.8"/>
<rect x="362.24" y="113.65" width="6.5" height="6.5" fill="#a0a0a0" stroke="#000" stroke-width="1.8"/>
<rect x="362.36" y="112.15" width="6.5" height="6.5" fill="#a0a0a0" stroke="#000" stroke-width="1.8"/>
<rect x="362.62" y="109.15" width="6.5" height="6.5" fill="#a0a0a0" stroke="#000" stroke-width="1.8"/>
<rect x="362.74" y="107.65" width="6.5" height="6.5" fill="#a0a0a0" stroke="#000" stroke-width="1.8"/>
<rect x="362.99" y="104.65" width="6.5" height="6.5" fill="#a0a0a0" stroke="#000" stroke-width="1.8"/>
<rect x="363.12" y="103.15" width="6.5" height="6.5" fill="#a0a0a0" stroke="#000" stroke-width="1.8"/>
<rect x="363.40" y="100.15" width="6.5" height="6.5" fill="#a0a0a0" stroke="#000" stroke-width="1.8"/>
<rect x="363.55" y="98.65" width="6.5" height="6.5" fill="#a0a0a0" stroke="#000" stroke-width="1.8"/>
<rect x="363.84" y="95.65" width="6.5" height="6.5" fill="#a0a0a0" stroke="#000" stroke-width="1.8"/>
<rect x="363.98" y="94.15" width="6.5" height="6.5" fill="#a0a0a0" stroke="#000" stroke-width="1.8"/>
<rect x="364.27" y="91.15" width="6.5" height="6.5" fill="#a0a0a0" stroke="#000" stroke-width="1.8"/>
<rect x="364.42" y="89.65" width="6.5" height="6.5" fill="#a0a0a0" stroke="#000" stroke-width="1.8"/>
<rect x="364.71" y="86.65" width="6.5" height="6.5" fill="#a0a0a0" stroke="#000" stroke-width="1.8"/>
<rect x="364.90" y="85.15" width="6.5" height="6.5" fill="#a0a0a0" stroke="#000" stroke-width="1.8"/>
<rect x="365.39" y="82.15" width="6.5" height="6.5" fill="#a0a0a0" stroke="#000" stroke-width="1.8"/>
<rect x="365.63" y="80.65" width="6.5" height="6.5" fill="#a0a0a0" stroke="#000" stroke-width="1.8"/>
<rect x="366.12" y="77.65" width="6.5" height="6.5" fill="#a0a0a0" stroke="#000" stroke-width="1.8"/>
<rect x="366.37" y="76.15" width="6.5" height="6.5" fill="#a0a0a0" stroke="#000" stroke-width="1.8"/>
<rect x="366.86" y="73.15" width="6.5" height="6.5" fill="#a0a0a0" stroke="#000" stroke-width="1.8"/>
<rect x="367.11" y="71.65" width="6.5" height="6.5" fill="#a0a0a0" stroke="#000" stroke-width="1.8"/>
<rect x="367.76" y="68.65" width="6.5" height="6.5" fill="#a0a0a0" stroke="#000" stroke-width="1.8"/>
<rect x="368.09" y="67.15" width="6.5" height="6.5" fill="#a0a0a0" stroke="#000" stroke-width="1.8"/>
<rect x="368.74" y="64.15" width="6.5" height="6.5" fill="#a0a0a0" stroke="#000" stroke-width="1.8"/>
<rect x="369.06" y="62.65" width="6.5" height="6.5" fill="#a0a0a0" stroke="#000" stroke-width="1.8"/>
<rect x="369.72" y="59.65" width="6.5" height="6.5" fill="#a0a0a0" stroke="#000" stroke-width="1.8"/>
<rect x="370.04" y="58.15" width="6.5" height="6.5" fill="#a0a0a0" stroke="#000" stroke-width="1.8"/>
<rect x="370.58" y="55.15" width="6.5" height="6.5" fill="#a0a0a0" stroke="#000" stroke-width="1.8"/>
<rect x="370.80" y="53.65" width="6.5" height="6.5" fill="#a0a0a0" stroke="#000" stroke-width="1.8"/>
<rect x="371.24" y="50.65" width="6.5" height="6.5" fill="#a0a0a0" stroke="#000" stroke-width="1.8"/>
<rect x="371.46" y="49.15" width="6.5" height="6.5" fill="#a0a0a0" stroke="#000" stroke-width="1.8"/>
<rect x="372.07" y="46.15" width="6.5" height="6.5" fill="#a0a0a0" stroke="#000" stroke-width="1.8"/>
<rect x="372.71" y="44.65" width="6.5" height="6.5" fill="#a0a0a0" stroke="#000" stroke-width="1.8"/>
<rect x="373.96" y="41.65" width="6.5" height="6.5" fill="#a0a0a0" stroke="#000" stroke-width="1.8"/>
<rect x="374.46" y="40.15" width="6.5" height="6.5" fill="#a0a0a0" stroke="#000" stroke-width="1.8"/>
<rect x="375.55" y="41.95" width="6.5" height="6.5" fill="#a0a0a0" stroke="#000" stroke-width="1.8"/>
<rect x="381.45" y="38.75" width="6.5" height="6.5" fill="#a0a0a0" stroke="#000" stroke-width="1.8"/>
<rect x="386.15" y="35.05" width="6.5" height="6.5" fill="#a0a0a0" stroke="#000" stroke-width="1.8"/>
<rect x="391.95" y="31.35" width="6.5" height="6.5" fill="#a0a0a0" stroke="#000" stroke-width="1.8"/>
<rect x="395.15" y="29.75" width="6.5" height="6.5" fill="#a0a0a0" stroke="#000" stroke-width="1.8"/>
<rect x="402.05" y="27.65" width="6.5" height="6.5" fill="#a0a0a0" stroke="#000" stroke-width="1.8"/>
<rect x="406.85" y="26.55" width="6.5" height="6.5" fill="#a0a0a0" stroke="#000" stroke-width="1.8"/>
<rect x="413.65" y="24.45" width="6.5" height="6.5" fill="#a0a0a0" stroke="#000" stroke-width="1.8"/>
<rect x="417.95" y="23.35" width="6.5" height="6.5" fill="#a0a0a0" stroke="#000" stroke-width="1.8"/>
<circle cx="406.50" cy="32.00" r="3.7" fill="#f00" stroke="#000" stroke-width="1.3"/>
<path d="M371,47 L374.8,41.5 L378,37.5 L384.3,33.5 L394.3,27 L398.7,25 L406.5,22.6 L411,20.5 L420,18.5 L424,24 L412,30 L411.6,33.8 L398.7,36 L392,39.5 L382,44 L378,50 Z" fill="#000"/>
<circle cx="413.50" cy="22.50" r="3.7" fill="#f00" stroke="#000" stroke-width="1.3"/>
<circle cx="427.50" cy="20.80" r="3.7" fill="#f00" stroke="#000" stroke-width="1.3"/>
<circle cx="432.60" cy="19.70" r="3.7" fill="#f00" stroke="#000" stroke-width="1.3"/>
<circle cx="441.60" cy="16.60" r="3.7" fill="#f00" stroke="#000" stroke-width="1.3"/>
<circle cx="458.60" cy="16.40" r="3.7" fill="#f00" stroke="#000" stroke-width="1.3"/>
<rect x="376.35" y="37.35" width="6.5" height="6.5" fill="#a0a0a0" stroke="#000" stroke-width="1.8"/>
<rect x="382.25" y="34.15" width="6.5" height="6.5" fill="#a0a0a0" stroke="#000" stroke-width="1.8"/>
<rect x="386.95" y="30.45" width="6.5" height="6.5" fill="#a0a0a0" stroke="#000" stroke-width="1.8"/>
<rect x="392.75" y="26.75" width="6.5" height="6.5" fill="#a0a0a0" stroke="#000" stroke-width="1.8"/>
<rect x="395.95" y="25.15" width="6.5" height="6.5" fill="#a0a0a0" stroke="#000" stroke-width="1.8"/>
<rect x="402.85" y="23.05" width="6.5" height="6.5" fill="#a0a0a0" stroke="#000" stroke-width="1.8"/>
<rect x="407.65" y="21.95" width="6.5" height="6.5" fill="#a0a0a0" stroke="#000" stroke-width="1.8"/>
<rect x="414.45" y="19.85" width="6.5" height="6.5" fill="#a0a0a0" stroke="#000" stroke-width="1.8"/>
<rect x="418.75" y="18.75" width="6.5" height="6.5" fill="#a0a0a0" stroke="#000" stroke-width="1.8"/>
<rect x="441.75" y="17.15" width="6.5" height="6.5" fill="#a0a0a0" stroke="#000" stroke-width="1.8"/>
<rect x="467.95" y="15.35" width="6.5" height="6.5" fill="#a0a0a0" stroke="#000" stroke-width="1.8"/>
<rect x="496.35" y="13.75" width="6.5" height="6.5" fill="#a0a0a0" stroke="#000" stroke-width="1.8"/>
<line x1="503.6" y1="16.6" x2="556.2" y2="16.6" stroke="#111" stroke-width="1.1"/>
<rect x="412" y="33" width="141" height="48" fill="#fff"/>
<line x1="416.4" y1="51.6" x2="441.7" y2="51.6" stroke="#000" stroke-width="1.4"/>
<circle cx="428.7" cy="51.6" r="3.7" fill="#f00" stroke="#000" stroke-width="1.3"/>
<line x1="416.4" y1="69.2" x2="441.7" y2="69.2" stroke="#000" stroke-width="1.4"/>
<rect x="425.45" y="65.95" width="6.5" height="6.5" fill="#a0a0a0" stroke="#000" stroke-width="1.8"/>
<text x="444.30" y="55.00" font-size="9.8" text-anchor="start" font-weight="normal" font-style="normal" fill="#000"  stroke="#000" stroke-width="0.2">excess rest after activity</text>
<text x="444.30" y="72.80" font-size="9.8" text-anchor="start" font-weight="normal" font-style="normal" fill="#000"  stroke="#000" stroke-width="0.2">deficit rest after activity</text>
<text x="333.60" y="17.80" font-size="19.3" text-anchor="start" font-weight="bold" font-style="normal" fill="#000" stroke="#000" stroke-width="0.5">C</text>
<line x1="404.50" y1="192.2" x2="404.50" y2="327.9" stroke="#aaa" stroke-width="0.9" stroke-dasharray="1,1.1"/>
<line x1="481.50" y1="192.2" x2="481.50" y2="327.9" stroke="#aaa" stroke-width="0.9" stroke-dasharray="1,1.1"/>
<line x1="558.50" y1="192.2" x2="558.50" y2="327.9" stroke="#aaa" stroke-width="0.9" stroke-dasharray="2,1"/>
<line x1="365.8" y1="273.50" x2="558.5" y2="273.50" stroke="#aaa" stroke-width="0.9" stroke-dasharray="2.4,1.3"/>
<line x1="365.8" y1="219.50" x2="558.5" y2="219.50" stroke="#aaa" stroke-width="0.9" stroke-dasharray="2.4,1.3"/>
<line x1="365.8" y1="327.9" x2="558.5" y2="327.9" stroke="#777" stroke-width="1.2"/>
<line x1="365.8" y1="327.9" x2="365.8" y2="192.2" stroke="#999" stroke-width="1.4"/>
<line x1="365.80" y1="327.9" x2="365.80" y2="326.09999999999997" stroke="#777" stroke-width="0.8"/>
<text x="365.80" y="340.70" font-size="9.4" text-anchor="middle" font-weight="normal" font-style="normal" fill="#222"  stroke="#222" stroke-width="0.2">0</text>
<line x1="365.8" y1="327.90" x2="367.6" y2="327.90" stroke="#777" stroke-width="0.8"/>
<text x="362.10" y="331.00" font-size="9.4" text-anchor="end" font-weight="normal" font-style="normal" fill="#222"  stroke="#222" stroke-width="0.2">0</text>
<line x1="404.34" y1="327.9" x2="404.34" y2="326.09999999999997" stroke="#777" stroke-width="0.8"/>
<text x="404.34" y="340.70" font-size="9.4" text-anchor="middle" font-weight="normal" font-style="normal" fill="#222"  stroke="#222" stroke-width="0.2">20</text>
<line x1="365.8" y1="300.76" x2="367.6" y2="300.76" stroke="#777" stroke-width="0.8"/>
<line x1="558.5" y1="300.76" x2="556.7" y2="300.76" stroke="#888" stroke-width="0.8"/>
<text x="362.10" y="303.86" font-size="9.4" text-anchor="end" font-weight="normal" font-style="normal" fill="#222"  stroke="#222" stroke-width="0.2">0.2</text>
<line x1="442.88" y1="327.9" x2="442.88" y2="326.09999999999997" stroke="#777" stroke-width="0.8"/>
<text x="442.88" y="340.70" font-size="9.4" text-anchor="middle" font-weight="normal" font-style="normal" fill="#222"  stroke="#222" stroke-width="0.2">40</text>
<line x1="365.8" y1="273.62" x2="367.6" y2="273.62" stroke="#777" stroke-width="0.8"/>
<line x1="558.5" y1="273.62" x2="556.7" y2="273.62" stroke="#888" stroke-width="0.8"/>
<text x="362.10" y="276.72" font-size="9.4" text-anchor="end" font-weight="normal" font-style="normal" fill="#222"  stroke="#222" stroke-width="0.2">0.4</text>
<line x1="481.42" y1="327.9" x2="481.42" y2="326.09999999999997" stroke="#777" stroke-width="0.8"/>
<text x="481.42" y="340.70" font-size="9.4" text-anchor="middle" font-weight="normal" font-style="normal" fill="#222"  stroke="#222" stroke-width="0.2">60</text>
<line x1="365.8" y1="246.48" x2="367.6" y2="246.48" stroke="#777" stroke-width="0.8"/>
<line x1="558.5" y1="246.48" x2="556.7" y2="246.48" stroke="#888" stroke-width="0.8"/>
<text x="362.10" y="249.58" font-size="9.4" text-anchor="end" font-weight="normal" font-style="normal" fill="#222"  stroke="#222" stroke-width="0.2">0.6</text>
<line x1="519.96" y1="327.9" x2="519.96" y2="326.09999999999997" stroke="#777" stroke-width="0.8"/>
<text x="519.96" y="340.70" font-size="9.4" text-anchor="middle" font-weight="normal" font-style="normal" fill="#222"  stroke="#222" stroke-width="0.2">80</text>
<line x1="365.8" y1="219.34" x2="367.6" y2="219.34" stroke="#777" stroke-width="0.8"/>
<line x1="558.5" y1="219.34" x2="556.7" y2="219.34" stroke="#888" stroke-width="0.8"/>
<text x="362.10" y="222.44" font-size="9.4" text-anchor="end" font-weight="normal" font-style="normal" fill="#222"  stroke="#222" stroke-width="0.2">0.8</text>
<line x1="558.50" y1="327.9" x2="558.50" y2="326.09999999999997" stroke="#777" stroke-width="0.8"/>
<text x="558.50" y="340.70" font-size="9.4" text-anchor="middle" font-weight="normal" font-style="normal" fill="#222"  stroke="#222" stroke-width="0.2">100</text>
<line x1="365.8" y1="192.20" x2="367.6" y2="192.20" stroke="#777" stroke-width="0.8"/>
<text x="362.10" y="195.30" font-size="9.4" text-anchor="end" font-weight="normal" font-style="normal" fill="#222"  stroke="#222" stroke-width="0.2">1</text>
<text x="461.75" y="348.90" font-size="9.95" text-anchor="middle" font-weight="normal" font-style="normal" fill="#000"  stroke="#000" stroke-width="0.2">duration (min)</text>
<text x="0" y="0" font-size="9.95" text-anchor="middle" fill="#000" stroke="#000" stroke-width="0.2" transform="translate(344.4,260.05) rotate(-90)">empirical cdf</text>
<path d="M366.38,327.90 H366.39 V327.00 H366.40 V326.09 H366.41 V325.19 H366.42 V324.28 H366.43 V323.38 H366.44 V322.47 H366.45 V321.57 H366.46 V320.66 H366.46 V319.76 H366.47 V318.85 H366.48 V317.95 H366.49 V317.04 H366.50 V316.14 H366.51 V315.23 H366.52 V314.33 H366.53 V313.43 H366.54 V312.52 H366.55 V311.62 H366.56 V310.71 H366.57 V309.81 H366.58 V308.90 H366.59 V308.00 H366.60 V307.09 H366.61 V306.19 H366.62 V305.28 H366.63 V304.38 H366.64 V303.47 H366.65 V302.57 H366.66 V301.66 H366.67 V300.76 H366.72 V299.86 H366.77 V298.95 H366.82 V298.05 H366.87 V297.14 H366.92 V296.24 H366.97 V295.33 H367.02 V294.43 H367.07 V293.52 H367.12 V292.62 H367.17 V291.71 H367.22 V290.81 H367.27 V289.90 H367.32 V289.00 H367.37 V288.09 H367.43 V287.19 H367.49 V286.29 H367.55 V285.38 H367.60 V284.48 H367.66 V283.57 H367.72 V282.67 H367.78 V281.76 H367.84 V280.86 H367.90 V279.95 H367.95 V279.05 H368.01 V278.14 H368.07 V277.24 H368.13 V276.33 H368.19 V275.43 H368.25 V274.52 H368.31 V273.62 H368.44 V272.72 H368.57 V271.81 H368.70 V270.91 H368.84 V270.00 H368.97 V269.10 H369.10 V268.19 H369.24 V267.29 H369.37 V266.38 H369.50 V265.48 H369.63 V264.57 H369.77 V263.67 H369.90 V262.76 H370.03 V261.86 H370.17 V260.95 H370.30 V260.05 H370.43 V259.15 H370.56 V258.24 H370.70 V257.34 H370.83 V256.43 H370.96 V255.53 H371.10 V254.62 H371.23 V253.72 H371.36 V252.81 H371.49 V251.91 H371.63 V251.00 H371.76 V250.10 H372.04 V249.19 H372.33 V248.29 H372.63 V247.38 H372.92 V246.48 H373.22 V245.58 H373.51 V244.67 H373.81 V243.77 H374.11 V242.86 H374.40 V241.96 H374.70 V241.05 H374.99 V240.15 H375.41 V239.24 H375.87 V238.34 H376.32 V237.43 H376.78 V236.53 H377.23 V235.62 H377.69 V234.72 H378.14 V233.81 H378.59 V232.91 H379.05 V232.01 H379.50 V231.10 H379.96 V230.20 H380.61 V229.29 H381.31 V228.39 H382.01 V227.48 H382.72 V226.58 H383.42 V225.67 H384.15 V224.77 H384.95 V223.86 H385.75 V222.96 H386.55 V222.05 H387.35 V221.15 H388.15 V220.24 H388.87 V219.34 H389.56 V218.44 H390.26 V217.53 H390.95 V216.63 H391.64 V215.72 H392.20 V214.82 H395.00 V212.20 H398.50 V209.00 H401.60 V207.00 H403.40 V206.40 H405.10 V206.00 H409.30 V204.00 H411.00 V203.50 H412.60 V203.20 H415.60 V202.00 H419.50 V200.60 H421.00 V200.20 H424.30 V199.60 H433.50 V199.10 H436.20 V198.20 H438.40 V196.90 H442.80 V195.60 H460.80 V194.80 H480.90 V193.10 H516.20 V192.30" fill="none" stroke="#000" stroke-width="1.1"/>
<path d="M366.39,326.90 H366.41 V323.90 H366.42 V322.40 H366.45 V319.40 H366.46 V317.90 H366.49 V314.90 H366.50 V313.40 H366.53 V310.40 H366.54 V308.90 H366.57 V305.90 H366.58 V304.40 H366.60 V301.40 H366.65 V299.90 H366.81 V296.90 H366.89 V295.40 H367.04 V292.40 H367.12 V290.90 H367.28 V287.90 H367.37 V286.40 H367.54 V283.40 H367.63 V281.90 H367.81 V278.90 H367.89 V277.40 H368.07 V274.40 H368.21 V272.90 H368.60 V269.90 H368.79 V268.40 H369.19 V265.40 H369.38 V263.90 H369.77 V260.90 H369.97 V259.40 H370.36 V256.40 H370.56 V254.90 H371.06 V251.00 H371.18 V250.10 H371.30 V249.19 H371.44 V248.29 H371.66 V247.38 H371.88 V246.48 H372.10 V245.58 H372.32 V244.67 H372.53 V243.77 H372.75 V242.86 H372.97 V241.96 H373.19 V241.05 H373.41 V240.15 H373.65 V239.24 H373.91 V238.34 H374.16 V237.43 H374.41 V236.53 H374.67 V235.62 H374.92 V234.72 H375.17 V233.81 H375.43 V232.91 H375.68 V232.01 H375.93 V231.10 H376.19 V230.20 H376.56 V229.29 H376.97 V228.39 H377.38 V227.48 H377.79 V226.58 H378.20 V225.67 H378.61 V224.77 H379.02 V223.86 H379.42 V222.96 H379.83 V222.05 H380.24 V221.15 H380.65 V220.24 H381.06 V219.34 H381.46 V218.44 H381.87 V217.53 H382.28 V216.63 H382.68 V215.72 H383.09 V214.82 H383.50 V213.91 H383.90 V213.01 H384.11 V212.10 H388.50 V206.50 H390.50 V204.50 H393.00 V202.50 H396.00 V200.50 H401.00 V198.20 H406.50 V196.80 H410.00 V195.80 H412.80 V195.00 H415.50 V194.00 H419.50 V193.00 H460.20 V192.10" fill="none" stroke="#000" stroke-width="1.1"/>
<circle cx="366.38" cy="327.90" r="3.7" fill="#000" stroke="#000" stroke-width="1.3"/>
<circle cx="366.39" cy="327.00" r="3.7" fill="#000" stroke="#000" stroke-width="1.3"/>
<circle cx="366.40" cy="326.09" r="3.7" fill="#000" stroke="#000" stroke-width="1.3"/>
<circle cx="366.41" cy="325.19" r="3.7" fill="#000" stroke="#000" stroke-width="1.3"/>
<circle cx="366.42" cy="324.28" r="3.7" fill="#000" stroke="#000" stroke-width="1.3"/>
<circle cx="366.43" cy="323.38" r="3.7" fill="#000" stroke="#000" stroke-width="1.3"/>
<circle cx="366.44" cy="322.47" r="3.7" fill="#000" stroke="#000" stroke-width="1.3"/>
<circle cx="366.45" cy="321.57" r="3.7" fill="#000" stroke="#000" stroke-width="1.3"/>
<circle cx="366.46" cy="320.66" r="3.7" fill="#000" stroke="#000" stroke-width="1.3"/>
<circle cx="366.46" cy="319.76" r="3.7" fill="#000" stroke="#000" stroke-width="1.3"/>
<circle cx="366.47" cy="318.85" r="3.7" fill="#000" stroke="#000" stroke-width="1.3"/>
<circle cx="366.48" cy="317.95" r="3.7" fill="#000" stroke="#000" stroke-width="1.3"/>
<circle cx="366.49" cy="317.04" r="3.7" fill="#000" stroke="#000" stroke-width="1.3"/>
<circle cx="366.50" cy="316.14" r="3.7" fill="#000" stroke="#000" stroke-width="1.3"/>
<circle cx="366.51" cy="315.23" r="3.7" fill="#000" stroke="#000" stroke-width="1.3"/>
<circle cx="366.52" cy="314.33" r="3.7" fill="#000" stroke="#000" stroke-width="1.3"/>
<circle cx="366.53" cy="313.43" r="3.7" fill="#000" stroke="#000" stroke-width="1.3"/>
<circle cx="366.54" cy="312.52" r="3.7" fill="#000" stroke="#000" stroke-width="1.3"/>
<circle cx="366.55" cy="311.62" r="3.7" fill="#000" stroke="#000" stroke-width="1.3"/>
<circle cx="366.56" cy="310.71" r="3.7" fill="#000" stroke="#000" stroke-width="1.3"/>
<circle cx="366.57" cy="309.81" r="3.7" fill="#000" stroke="#000" stroke-width="1.3"/>
<circle cx="366.58" cy="308.90" r="3.7" fill="#000" stroke="#000" stroke-width="1.3"/>
<circle cx="366.59" cy="308.00" r="3.7" fill="#000" stroke="#000" stroke-width="1.3"/>
<circle cx="366.60" cy="307.09" r="3.7" fill="#000" stroke="#000" stroke-width="1.3"/>
<circle cx="366.61" cy="306.19" r="3.7" fill="#000" stroke="#000" stroke-width="1.3"/>
<circle cx="366.62" cy="305.28" r="3.7" fill="#000" stroke="#000" stroke-width="1.3"/>
<circle cx="366.63" cy="304.38" r="3.7" fill="#000" stroke="#000" stroke-width="1.3"/>
<circle cx="366.64" cy="303.47" r="3.7" fill="#000" stroke="#000" stroke-width="1.3"/>
<circle cx="366.65" cy="302.57" r="3.7" fill="#000" stroke="#000" stroke-width="1.3"/>
<circle cx="366.66" cy="301.66" r="3.7" fill="#000" stroke="#000" stroke-width="1.3"/>
<circle cx="366.67" cy="300.76" r="3.7" fill="#000" stroke="#000" stroke-width="1.3"/>
<circle cx="366.72" cy="299.86" r="3.7" fill="#000" stroke="#000" stroke-width="1.3"/>
<circle cx="366.77" cy="298.95" r="3.7" fill="#000" stroke="#000" stroke-width="1.3"/>
<circle cx="366.82" cy="298.05" r="3.7" fill="#000" stroke="#000" stroke-width="1.3"/>
<circle cx="366.87" cy="297.14" r="3.7" fill="#000" stroke="#000" stroke-width="1.3"/>
<circle cx="366.92" cy="296.24" r="3.7" fill="#000" stroke="#000" stroke-width="1.3"/>
<circle cx="366.97" cy="295.33" r="3.7" fill="#000" stroke="#000" stroke-width="1.3"/>
<circle cx="367.02" cy="294.43" r="3.7" fill="#000" stroke="#000" stroke-width="1.3"/>
<circle cx="367.07" cy="293.52" r="3.7" fill="#000" stroke="#000" stroke-width="1.3"/>
<circle cx="367.12" cy="292.62" r="3.7" fill="#000" stroke="#000" stroke-width="1.3"/>
<circle cx="367.17" cy="291.71" r="3.7" fill="#000" stroke="#000" stroke-width="1.3"/>
<circle cx="367.22" cy="290.81" r="3.7" fill="#000" stroke="#000" stroke-width="1.3"/>
<circle cx="367.27" cy="289.90" r="3.7" fill="#000" stroke="#000" stroke-width="1.3"/>
<circle cx="367.32" cy="289.00" r="3.7" fill="#000" stroke="#000" stroke-width="1.3"/>
<circle cx="367.37" cy="288.09" r="3.7" fill="#000" stroke="#000" stroke-width="1.3"/>
<circle cx="367.43" cy="287.19" r="3.7" fill="#000" stroke="#000" stroke-width="1.3"/>
<circle cx="367.49" cy="286.29" r="3.7" fill="#000" stroke="#000" stroke-width="1.3"/>
<circle cx="367.55" cy="285.38" r="3.7" fill="#000" stroke="#000" stroke-width="1.3"/>
<circle cx="367.60" cy="284.48" r="3.7" fill="#000" stroke="#000" stroke-width="1.3"/>
<circle cx="367.66" cy="283.57" r="3.7" fill="#000" stroke="#000" stroke-width="1.3"/>
<circle cx="367.72" cy="282.67" r="3.7" fill="#000" stroke="#000" stroke-width="1.3"/>
<circle cx="367.78" cy="281.76" r="3.7" fill="#000" stroke="#000" stroke-width="1.3"/>
<circle cx="367.84" cy="280.86" r="3.7" fill="#000" stroke="#000" stroke-width="1.3"/>
<circle cx="367.90" cy="279.95" r="3.7" fill="#000" stroke="#000" stroke-width="1.3"/>
<circle cx="367.95" cy="279.05" r="3.7" fill="#000" stroke="#000" stroke-width="1.3"/>
<circle cx="368.01" cy="278.14" r="3.7" fill="#000" stroke="#000" stroke-width="1.3"/>
<circle cx="368.07" cy="277.24" r="3.7" fill="#000" stroke="#000" stroke-width="1.3"/>
<circle cx="368.13" cy="276.33" r="3.7" fill="#000" stroke="#000" stroke-width="1.3"/>
<circle cx="368.19" cy="275.43" r="3.7" fill="#000" stroke="#000" stroke-width="1.3"/>
<circle cx="368.25" cy="274.52" r="3.7" fill="#000" stroke="#000" stroke-width="1.3"/>
<circle cx="368.31" cy="273.62" r="3.7" fill="#000" stroke="#000" stroke-width="1.3"/>
<circle cx="368.44" cy="272.72" r="3.7" fill="#000" stroke="#000" stroke-width="1.3"/>
<circle cx="368.57" cy="271.81" r="3.7" fill="#000" stroke="#000" stroke-width="1.3"/>
<circle cx="368.70" cy="270.91" r="3.7" fill="#000" stroke="#000" stroke-width="1.3"/>
<circle cx="368.84" cy="270.00" r="3.7" fill="#000" stroke="#000" stroke-width="1.3"/>
<circle cx="368.97" cy="269.10" r="3.7" fill="#000" stroke="#000" stroke-width="1.3"/>
<circle cx="369.10" cy="268.19" r="3.7" fill="#000" stroke="#000" stroke-width="1.3"/>
<circle cx="369.24" cy="267.29" r="3.7" fill="#000" stroke="#000" stroke-width="1.3"/>
<circle cx="369.37" cy="266.38" r="3.7" fill="#000" stroke="#000" stroke-width="1.3"/>
<circle cx="369.50" cy="265.48" r="3.7" fill="#000" stroke="#000" stroke-width="1.3"/>
<circle cx="369.63" cy="264.57" r="3.7" fill="#000" stroke="#000" stroke-width="1.3"/>
<circle cx="369.77" cy="263.67" r="3.7" fill="#000" stroke="#000" stroke-width="1.3"/>
<circle cx="369.90" cy="262.76" r="3.7" fill="#000" stroke="#000" stroke-width="1.3"/>
<circle cx="370.03" cy="261.86" r="3.7" fill="#000" stroke="#000" stroke-width="1.3"/>
<circle cx="370.17" cy="260.95" r="3.7" fill="#000" stroke="#000" stroke-width="1.3"/>
<circle cx="370.30" cy="260.05" r="3.7" fill="#000" stroke="#000" stroke-width="1.3"/>
<circle cx="370.43" cy="259.15" r="3.7" fill="#000" stroke="#000" stroke-width="1.3"/>
<circle cx="370.56" cy="258.24" r="3.7" fill="#000" stroke="#000" stroke-width="1.3"/>
<circle cx="370.70" cy="257.34" r="3.7" fill="#000" stroke="#000" stroke-width="1.3"/>
<circle cx="370.83" cy="256.43" r="3.7" fill="#000" stroke="#000" stroke-width="1.3"/>
<circle cx="370.96" cy="255.53" r="3.7" fill="#000" stroke="#000" stroke-width="1.3"/>
<circle cx="371.10" cy="254.62" r="3.7" fill="#000" stroke="#000" stroke-width="1.3"/>
<circle cx="371.23" cy="253.72" r="3.7" fill="#000" stroke="#000" stroke-width="1.3"/>
<circle cx="371.36" cy="252.81" r="3.7" fill="#000" stroke="#000" stroke-width="1.3"/>
<circle cx="371.49" cy="251.91" r="3.7" fill="#000" stroke="#000" stroke-width="1.3"/>
<circle cx="371.63" cy="251.00" r="3.7" fill="#000" stroke="#000" stroke-width="1.3"/>
<circle cx="371.76" cy="250.10" r="3.7" fill="#000" stroke="#000" stroke-width="1.3"/>
<circle cx="372.04" cy="249.19" r="3.7" fill="#000" stroke="#000" stroke-width="1.3"/>
<circle cx="372.33" cy="248.29" r="3.7" fill="#000" stroke="#000" stroke-width="1.3"/>
<circle cx="372.63" cy="247.38" r="3.7" fill="#000" stroke="#000" stroke-width="1.3"/>
<circle cx="372.92" cy="246.48" r="3.7" fill="#000" stroke="#000" stroke-width="1.3"/>
<circle cx="373.22" cy="245.58" r="3.7" fill="#000" stroke="#000" stroke-width="1.3"/>
<circle cx="373.51" cy="244.67" r="3.7" fill="#000" stroke="#000" stroke-width="1.3"/>
<circle cx="373.81" cy="243.77" r="3.7" fill="#000" stroke="#000" stroke-width="1.3"/>
<circle cx="374.11" cy="242.86" r="3.7" fill="#000" stroke="#000" stroke-width="1.3"/>
<circle cx="374.40" cy="241.96" r="3.7" fill="#000" stroke="#000" stroke-width="1.3"/>
<circle cx="374.70" cy="241.05" r="3.7" fill="#000" stroke="#000" stroke-width="1.3"/>
<circle cx="374.99" cy="240.15" r="3.7" fill="#000" stroke="#000" stroke-width="1.3"/>
<circle cx="375.41" cy="239.24" r="3.7" fill="#000" stroke="#000" stroke-width="1.3"/>
<circle cx="375.87" cy="238.34" r="3.7" fill="#000" stroke="#000" stroke-width="1.3"/>
<circle cx="376.32" cy="237.43" r="3.7" fill="#000" stroke="#000" stroke-width="1.3"/>
<circle cx="376.78" cy="236.53" r="3.7" fill="#000" stroke="#000" stroke-width="1.3"/>
<circle cx="377.23" cy="235.62" r="3.7" fill="#000" stroke="#000" stroke-width="1.3"/>
<circle cx="377.69" cy="234.72" r="3.7" fill="#000" stroke="#000" stroke-width="1.3"/>
<circle cx="378.14" cy="233.81" r="3.7" fill="#000" stroke="#000" stroke-width="1.3"/>
<circle cx="378.59" cy="232.91" r="3.7" fill="#000" stroke="#000" stroke-width="1.3"/>
<circle cx="379.05" cy="232.01" r="3.7" fill="#000" stroke="#000" stroke-width="1.3"/>
<circle cx="379.50" cy="231.10" r="3.7" fill="#000" stroke="#000" stroke-width="1.3"/>
<circle cx="379.96" cy="230.20" r="3.7" fill="#000" stroke="#000" stroke-width="1.3"/>
<circle cx="380.61" cy="229.29" r="3.7" fill="#000" stroke="#000" stroke-width="1.3"/>
<circle cx="381.31" cy="228.39" r="3.7" fill="#000" stroke="#000" stroke-width="1.3"/>
<circle cx="382.01" cy="227.48" r="3.7" fill="#000" stroke="#000" stroke-width="1.3"/>
<circle cx="382.72" cy="226.58" r="3.7" fill="#000" stroke="#000" stroke-width="1.3"/>
<circle cx="383.42" cy="225.67" r="3.7" fill="#000" stroke="#000" stroke-width="1.3"/>
<circle cx="384.15" cy="224.77" r="3.7" fill="#000" stroke="#000" stroke-width="1.3"/>
<circle cx="384.95" cy="223.86" r="3.7" fill="#000" stroke="#000" stroke-width="1.3"/>
<circle cx="385.75" cy="222.96" r="3.7" fill="#000" stroke="#000" stroke-width="1.3"/>
<circle cx="386.55" cy="222.05" r="3.7" fill="#000" stroke="#000" stroke-width="1.3"/>
<circle cx="387.35" cy="221.15" r="3.7" fill="#000" stroke="#000" stroke-width="1.3"/>
<circle cx="388.15" cy="220.24" r="3.7" fill="#000" stroke="#000" stroke-width="1.3"/>
<circle cx="388.87" cy="219.34" r="3.7" fill="#000" stroke="#000" stroke-width="1.3"/>
<circle cx="389.56" cy="218.44" r="3.7" fill="#000" stroke="#000" stroke-width="1.3"/>
<circle cx="390.26" cy="217.53" r="3.7" fill="#000" stroke="#000" stroke-width="1.3"/>
<circle cx="390.95" cy="216.63" r="3.7" fill="#000" stroke="#000" stroke-width="1.3"/>
<circle cx="391.64" cy="215.72" r="3.7" fill="#000" stroke="#000" stroke-width="1.3"/>
<circle cx="392.20" cy="214.82" r="3.7" fill="#000" stroke="#000" stroke-width="1.3"/>
<rect x="363.14" y="323.65" width="6.5" height="6.5" fill="#a0a0a0" stroke="#000" stroke-width="1.8"/>
<rect x="363.16" y="320.65" width="6.5" height="6.5" fill="#a0a0a0" stroke="#000" stroke-width="1.8"/>
<rect x="363.17" y="319.15" width="6.5" height="6.5" fill="#a0a0a0" stroke="#000" stroke-width="1.8"/>
<rect x="363.20" y="316.15" width="6.5" height="6.5" fill="#a0a0a0" stroke="#000" stroke-width="1.8"/>
<rect x="363.21" y="314.65" width="6.5" height="6.5" fill="#a0a0a0" stroke="#000" stroke-width="1.8"/>
<rect x="363.24" y="311.65" width="6.5" height="6.5" fill="#a0a0a0" stroke="#000" stroke-width="1.8"/>
<rect x="363.25" y="310.15" width="6.5" height="6.5" fill="#a0a0a0" stroke="#000" stroke-width="1.8"/>
<rect x="363.28" y="307.15" width="6.5" height="6.5" fill="#a0a0a0" stroke="#000" stroke-width="1.8"/>
<rect x="363.29" y="305.65" width="6.5" height="6.5" fill="#a0a0a0" stroke="#000" stroke-width="1.8"/>
<rect x="363.32" y="302.65" width="6.5" height="6.5" fill="#a0a0a0" stroke="#000" stroke-width="1.8"/>
<rect x="363.33" y="301.15" width="6.5" height="6.5" fill="#a0a0a0" stroke="#000" stroke-width="1.8"/>
<rect x="363.35" y="298.15" width="6.5" height="6.5" fill="#a0a0a0" stroke="#000" stroke-width="1.8"/>
<rect x="363.40" y="296.65" width="6.5" height="6.5" fill="#a0a0a0" stroke="#000" stroke-width="1.8"/>
<rect x="363.56" y="293.65" width="6.5" height="6.5" fill="#a0a0a0" stroke="#000" stroke-width="1.8"/>
<rect x="363.64" y="292.15" width="6.5" height="6.5" fill="#a0a0a0" stroke="#000" stroke-width="1.8"/>
<rect x="363.79" y="289.15" width="6.5" height="6.5" fill="#a0a0a0" stroke="#000" stroke-width="1.8"/>
<rect x="363.87" y="287.65" width="6.5" height="6.5" fill="#a0a0a0" stroke="#000" stroke-width="1.8"/>
<rect x="364.03" y="284.65" width="6.5" height="6.5" fill="#a0a0a0" stroke="#000" stroke-width="1.8"/>
<rect x="364.12" y="283.15" width="6.5" height="6.5" fill="#a0a0a0" stroke="#000" stroke-width="1.8"/>
<rect x="364.29" y="280.15" width="6.5" height="6.5" fill="#a0a0a0" stroke="#000" stroke-width="1.8"/>
<rect x="364.38" y="278.65" width="6.5" height="6.5" fill="#a0a0a0" stroke="#000" stroke-width="1.8"/>
<rect x="364.56" y="275.65" width="6.5" height="6.5" fill="#a0a0a0" stroke="#000" stroke-width="1.8"/>
<rect x="364.64" y="274.15" width="6.5" height="6.5" fill="#a0a0a0" stroke="#000" stroke-width="1.8"/>
<rect x="364.82" y="271.15" width="6.5" height="6.5" fill="#a0a0a0" stroke="#000" stroke-width="1.8"/>
<rect x="364.96" y="269.65" width="6.5" height="6.5" fill="#a0a0a0" stroke="#000" stroke-width="1.8"/>
<rect x="365.35" y="266.65" width="6.5" height="6.5" fill="#a0a0a0" stroke="#000" stroke-width="1.8"/>
<rect x="365.54" y="265.15" width="6.5" height="6.5" fill="#a0a0a0" stroke="#000" stroke-width="1.8"/>
<rect x="365.94" y="262.15" width="6.5" height="6.5" fill="#a0a0a0" stroke="#000" stroke-width="1.8"/>
<rect x="366.13" y="260.65" width="6.5" height="6.5" fill="#a0a0a0" stroke="#000" stroke-width="1.8"/>
<rect x="366.52" y="257.65" width="6.5" height="6.5" fill="#a0a0a0" stroke="#000" stroke-width="1.8"/>
<rect x="366.72" y="256.15" width="6.5" height="6.5" fill="#a0a0a0" stroke="#000" stroke-width="1.8"/>
<rect x="367.11" y="253.15" width="6.5" height="6.5" fill="#a0a0a0" stroke="#000" stroke-width="1.8"/>
<rect x="367.31" y="251.65" width="6.5" height="6.5" fill="#a0a0a0" stroke="#000" stroke-width="1.8"/>
<rect x="367.81" y="247.75" width="6.5" height="6.5" fill="#a0a0a0" stroke="#000" stroke-width="1.8"/>
<rect x="367.93" y="246.85" width="6.5" height="6.5" fill="#a0a0a0" stroke="#000" stroke-width="1.8"/>
<rect x="368.05" y="245.94" width="6.5" height="6.5" fill="#a0a0a0" stroke="#000" stroke-width="1.8"/>
<rect x="368.19" y="245.04" width="6.5" height="6.5" fill="#a0a0a0" stroke="#000" stroke-width="1.8"/>
<rect x="368.41" y="244.13" width="6.5" height="6.5" fill="#a0a0a0" stroke="#000" stroke-width="1.8"/>
<rect x="368.63" y="243.23" width="6.5" height="6.5" fill="#a0a0a0" stroke="#000" stroke-width="1.8"/>
<rect x="368.85" y="242.33" width="6.5" height="6.5" fill="#a0a0a0" stroke="#000" stroke-width="1.8"/>
<rect x="369.07" y="241.42" width="6.5" height="6.5" fill="#a0a0a0" stroke="#000" stroke-width="1.8"/>
<rect x="369.28" y="240.52" width="6.5" height="6.5" fill="#a0a0a0" stroke="#000" stroke-width="1.8"/>
<rect x="369.50" y="239.61" width="6.5" height="6.5" fill="#a0a0a0" stroke="#000" stroke-width="1.8"/>
<rect x="369.72" y="238.71" width="6.5" height="6.5" fill="#a0a0a0" stroke="#000" stroke-width="1.8"/>
<rect x="369.94" y="237.80" width="6.5" height="6.5" fill="#a0a0a0" stroke="#000" stroke-width="1.8"/>
<rect x="370.16" y="236.90" width="6.5" height="6.5" fill="#a0a0a0" stroke="#000" stroke-width="1.8"/>
<rect x="370.40" y="235.99" width="6.5" height="6.5" fill="#a0a0a0" stroke="#000" stroke-width="1.8"/>
<rect x="370.66" y="235.09" width="6.5" height="6.5" fill="#a0a0a0" stroke="#000" stroke-width="1.8"/>
<rect x="370.91" y="234.18" width="6.5" height="6.5" fill="#a0a0a0" stroke="#000" stroke-width="1.8"/>
<rect x="371.16" y="233.28" width="6.5" height="6.5" fill="#a0a0a0" stroke="#000" stroke-width="1.8"/>
<rect x="371.42" y="232.37" width="6.5" height="6.5" fill="#a0a0a0" stroke="#000" stroke-width="1.8"/>
<rect x="371.67" y="231.47" width="6.5" height="6.5" fill="#a0a0a0" stroke="#000" stroke-width="1.8"/>
<rect x="371.92" y="230.56" width="6.5" height="6.5" fill="#a0a0a0" stroke="#000" stroke-width="1.8"/>
<rect x="372.18" y="229.66" width="6.5" height="6.5" fill="#a0a0a0" stroke="#000" stroke-width="1.8"/>
<rect x="372.43" y="228.76" width="6.5" height="6.5" fill="#a0a0a0" stroke="#000" stroke-width="1.8"/>
<rect x="372.68" y="227.85" width="6.5" height="6.5" fill="#a0a0a0" stroke="#000" stroke-width="1.8"/>
<rect x="372.94" y="226.95" width="6.5" height="6.5" fill="#a0a0a0" stroke="#000" stroke-width="1.8"/>
<rect x="373.31" y="226.04" width="6.5" height="6.5" fill="#a0a0a0" stroke="#000" stroke-width="1.8"/>
<rect x="373.72" y="225.14" width="6.5" height="6.5" fill="#a0a0a0" stroke="#000" stroke-width="1.8"/>
<rect x="374.13" y="224.23" width="6.5" height="6.5" fill="#a0a0a0" stroke="#000" stroke-width="1.8"/>
<rect x="374.54" y="223.33" width="6.5" height="6.5" fill="#a0a0a0" stroke="#000" stroke-width="1.8"/>
<rect x="374.95" y="222.42" width="6.5" height="6.5" fill="#a0a0a0" stroke="#000" stroke-width="1.8"/>
<rect x="375.36" y="221.52" width="6.5" height="6.5" fill="#a0a0a0" stroke="#000" stroke-width="1.8"/>
<rect x="375.77" y="220.61" width="6.5" height="6.5" fill="#a0a0a0" stroke="#000" stroke-width="1.8"/>
<rect x="376.17" y="219.71" width="6.5" height="6.5" fill="#a0a0a0" stroke="#000" stroke-width="1.8"/>
<rect x="376.58" y="218.80" width="6.5" height="6.5" fill="#a0a0a0" stroke="#000" stroke-width="1.8"/>
<rect x="376.99" y="217.90" width="6.5" height="6.5" fill="#a0a0a0" stroke="#000" stroke-width="1.8"/>
<rect x="377.40" y="216.99" width="6.5" height="6.5" fill="#a0a0a0" stroke="#000" stroke-width="1.8"/>
<rect x="377.81" y="216.09" width="6.5" height="6.5" fill="#a0a0a0" stroke="#000" stroke-width="1.8"/>
<rect x="378.21" y="215.19" width="6.5" height="6.5" fill="#a0a0a0" stroke="#000" stroke-width="1.8"/>
<rect x="378.62" y="214.28" width="6.5" height="6.5" fill="#a0a0a0" stroke="#000" stroke-width="1.8"/>
<rect x="379.03" y="213.38" width="6.5" height="6.5" fill="#a0a0a0" stroke="#000" stroke-width="1.8"/>
<rect x="379.43" y="212.47" width="6.5" height="6.5" fill="#a0a0a0" stroke="#000" stroke-width="1.8"/>
<rect x="379.84" y="211.57" width="6.5" height="6.5" fill="#a0a0a0" stroke="#000" stroke-width="1.8"/>
<rect x="380.25" y="210.66" width="6.5" height="6.5" fill="#a0a0a0" stroke="#000" stroke-width="1.8"/>
<rect x="380.65" y="209.76" width="6.5" height="6.5" fill="#a0a0a0" stroke="#000" stroke-width="1.8"/>
<rect x="380.86" y="208.85" width="6.5" height="6.5" fill="#a0a0a0" stroke="#000" stroke-width="1.8"/>
<path d="M372.1,230 L376.6,220 L381.6,210 L385.5,205 L388.3,200 L396.4,196 L405.9,194.5 L420,192 L428,196 L425,203.5 L420,208 L410,210.6 L399.4,212.5 L396.6,215 L392.7,220 L388.3,225 L384.4,230 L381,236 Z" fill="#000"/>
<circle cx="395.00" cy="212.20" r="3.7" fill="#f00" stroke="#000" stroke-width="1.3"/>
<rect x="387" y="204" width="7" height="7" fill="#000"/>
<circle cx="398.50" cy="209.00" r="3.7" fill="#f00" stroke="#000" stroke-width="1.3"/>
<circle cx="401.60" cy="207.00" r="3.7" fill="#f00" stroke="#000" stroke-width="1.3"/>
<circle cx="403.40" cy="206.40" r="3.7" fill="#f00" stroke="#000" stroke-width="1.3"/>
<circle cx="405.10" cy="206.00" r="3.7" fill="#f00" stroke="#000" stroke-width="1.3"/>
<circle cx="409.30" cy="204.00" r="3.7" fill="#f00" stroke="#000" stroke-width="1.3"/>
<circle cx="411.00" cy="203.50" r="3.7" fill="#f00" stroke="#000" stroke-width="1.3"/>
<circle cx="412.60" cy="203.20" r="3.7" fill="#f00" stroke="#000" stroke-width="1.3"/>
<circle cx="415.60" cy="202.00" r="3.7" fill="#f00" stroke="#000" stroke-width="1.3"/>
<circle cx="419.50" cy="200.60" r="3.7" fill="#f00" stroke="#000" stroke-width="1.3"/>
<circle cx="421.00" cy="200.20" r="3.7" fill="#f00" stroke="#000" stroke-width="1.3"/>
<circle cx="424.30" cy="199.60" r="3.7" fill="#f00" stroke="#000" stroke-width="1.3"/>
<circle cx="433.50" cy="199.10" r="3.7" fill="#f00" stroke="#000" stroke-width="1.3"/>
<circle cx="436.20" cy="198.20" r="3.7" fill="#f00" stroke="#000" stroke-width="1.3"/>
<circle cx="438.40" cy="196.90" r="3.7" fill="#f00" stroke="#000" stroke-width="1.3"/>
<circle cx="442.80" cy="195.60" r="3.7" fill="#f00" stroke="#000" stroke-width="1.3"/>
<circle cx="460.80" cy="194.80" r="3.7" fill="#f00" stroke="#000" stroke-width="1.3"/>
<circle cx="480.90" cy="193.10" r="3.7" fill="#f00" stroke="#000" stroke-width="1.3"/>
<circle cx="516.20" cy="192.30" r="3.7" fill="#f00" stroke="#000" stroke-width="1.3"/>
<rect x="385.25" y="203.25" width="6.5" height="6.5" fill="#a0a0a0" stroke="#000" stroke-width="1.8"/>
<rect x="387.25" y="201.25" width="6.5" height="6.5" fill="#a0a0a0" stroke="#000" stroke-width="1.8"/>
<rect x="389.75" y="199.25" width="6.5" height="6.5" fill="#a0a0a0" stroke="#000" stroke-width="1.8"/>
<rect x="392.75" y="197.25" width="6.5" height="6.5" fill="#a0a0a0" stroke="#000" stroke-width="1.8"/>
<rect x="397.75" y="194.95" width="6.5" height="6.5" fill="#a0a0a0" stroke="#000" stroke-width="1.8"/>
<rect x="403.25" y="193.55" width="6.5" height="6.5" fill="#a0a0a0" stroke="#000" stroke-width="1.8"/>
<rect x="406.75" y="192.55" width="6.5" height="6.5" fill="#a0a0a0" stroke="#000" stroke-width="1.8"/>
<rect x="409.55" y="191.75" width="6.5" height="6.5" fill="#a0a0a0" stroke="#000" stroke-width="1.8"/>
<rect x="412.25" y="190.75" width="6.5" height="6.5" fill="#a0a0a0" stroke="#000" stroke-width="1.8"/>
<rect x="416.25" y="189.75" width="6.5" height="6.5" fill="#a0a0a0" stroke="#000" stroke-width="1.8"/>
<rect x="456.95" y="188.85" width="6.5" height="6.5" fill="#a0a0a0" stroke="#000" stroke-width="1.8"/>
<rect x="412" y="212" width="144" height="46" fill="#fff"/>
<line x1="419.5" y1="227.6" x2="444.8" y2="227.6" stroke="#000" stroke-width="1.4"/>
<circle cx="431.8" cy="227.6" r="3.7" fill="#f00" stroke="#000" stroke-width="1.3"/>
<line x1="419.5" y1="245.5" x2="444.8" y2="245.5" stroke="#000" stroke-width="1.4"/>
<rect x="428.55" y="242.25" width="6.5" height="6.5" fill="#a0a0a0" stroke="#000" stroke-width="1.8"/>
<text x="446.40" y="231.30" font-size="9.8" text-anchor="start" font-weight="normal" font-style="normal" fill="#000"  stroke="#000" stroke-width="0.2">excess rest after activity</text>
<text x="446.40" y="249.00" font-size="9.8" text-anchor="start" font-weight="normal" font-style="normal" fill="#000"  stroke="#000" stroke-width="0.2">deficit rest after activity</text>
</svg></body></html>
